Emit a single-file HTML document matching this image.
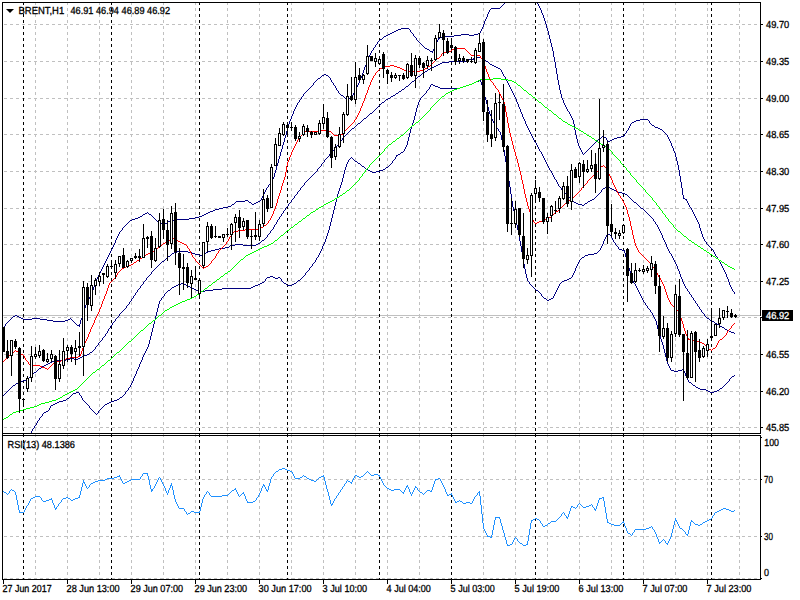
<!DOCTYPE html>
<html><head><meta charset="utf-8"><title>BRENT,H1</title>
<style>html,body{margin:0;padding:0;background:#fff;overflow:hidden}svg{display:block}text{font-family:"Liberation Sans",sans-serif}</style>
</head><body>
<svg width="800" height="600" viewBox="0 0 800 600">
<rect x="0" y="0" width="800" height="600" fill="#fff"/>
<defs><clipPath id="cm"><rect x="3" y="3" width="757" height="430"/></clipPath><clipPath id="cr"><rect x="3" y="436" width="757" height="143"/></clipPath></defs>
<g stroke="#c0c0c0" stroke-width="1" shape-rendering="crispEdges" fill="none">
<line x1="4" y1="24.5" x2="760" y2="24.5" stroke-dasharray="3,3"/>
<line x1="4" y1="61.5" x2="760" y2="61.5" stroke-dasharray="3,3"/>
<line x1="4" y1="98.5" x2="760" y2="98.5" stroke-dasharray="3,3"/>
<line x1="4" y1="134.5" x2="760" y2="134.5" stroke-dasharray="3,3"/>
<line x1="4" y1="171.5" x2="760" y2="171.5" stroke-dasharray="3,3"/>
<line x1="4" y1="208.5" x2="760" y2="208.5" stroke-dasharray="3,3"/>
<line x1="4" y1="244.5" x2="760" y2="244.5" stroke-dasharray="3,3"/>
<line x1="4" y1="281.5" x2="760" y2="281.5" stroke-dasharray="3,3"/>
<line x1="4" y1="317.5" x2="760" y2="317.5" stroke-dasharray="3,3"/>
<line x1="4" y1="354.5" x2="760" y2="354.5" stroke-dasharray="3,3"/>
<line x1="4" y1="391.5" x2="760" y2="391.5" stroke-dasharray="3,3"/>
<line x1="4" y1="427.5" x2="760" y2="427.5" stroke-dasharray="3,3"/>
<line x1="4" y1="479.5" x2="760" y2="479.5" stroke-dasharray="3,3"/>
<line x1="4" y1="536.5" x2="760" y2="536.5" stroke-dasharray="3,3"/>
<line x1="4" y1="578.5" x2="760" y2="578.5" stroke-dasharray="3,3"/>
<line x1="35.5" y1="2" x2="35.5" y2="579" stroke-dasharray="3,3"/>
<line x1="67.5" y1="2" x2="67.5" y2="579" stroke-dasharray="3,3"/>
<line x1="99.5" y1="2" x2="99.5" y2="579" stroke-dasharray="3,3"/>
<line x1="131.5" y1="2" x2="131.5" y2="579" stroke-dasharray="3,3"/>
<line x1="163.5" y1="2" x2="163.5" y2="579" stroke-dasharray="3,3"/>
<line x1="195.5" y1="2" x2="195.5" y2="579" stroke-dasharray="3,3"/>
<line x1="227.5" y1="2" x2="227.5" y2="579" stroke-dasharray="3,3"/>
<line x1="259.5" y1="2" x2="259.5" y2="579" stroke-dasharray="3,3"/>
<line x1="291.5" y1="2" x2="291.5" y2="579" stroke-dasharray="3,3"/>
<line x1="323.5" y1="2" x2="323.5" y2="579" stroke-dasharray="3,3"/>
<line x1="355.5" y1="2" x2="355.5" y2="579" stroke-dasharray="3,3"/>
<line x1="387.5" y1="2" x2="387.5" y2="579" stroke-dasharray="3,3"/>
<line x1="419.5" y1="2" x2="419.5" y2="579" stroke-dasharray="3,3"/>
<line x1="451.5" y1="2" x2="451.5" y2="579" stroke-dasharray="3,3"/>
<line x1="483.5" y1="2" x2="483.5" y2="579" stroke-dasharray="3,3"/>
<line x1="515.5" y1="2" x2="515.5" y2="579" stroke-dasharray="3,3"/>
<line x1="547.5" y1="2" x2="547.5" y2="579" stroke-dasharray="3,3"/>
<line x1="579.5" y1="2" x2="579.5" y2="579" stroke-dasharray="3,3"/>
<line x1="611.5" y1="2" x2="611.5" y2="579" stroke-dasharray="3,3"/>
<line x1="643.5" y1="2" x2="643.5" y2="579" stroke-dasharray="3,3"/>
<line x1="675.5" y1="2" x2="675.5" y2="579" stroke-dasharray="3,3"/>
<line x1="707.5" y1="2" x2="707.5" y2="579" stroke-dasharray="3,3"/>
<line x1="739.5" y1="2" x2="739.5" y2="579" stroke-dasharray="3,3"/>
</g>
<rect x="3" y="315" width="757" height="1" fill="#c0c0c0"/>
<g stroke="#000" stroke-width="1" shape-rendering="crispEdges" fill="none">
<line x1="23.5" y1="2" x2="23.5" y2="579" stroke-dasharray="3,3"/>
<line x1="111.5" y1="2" x2="111.5" y2="579" stroke-dasharray="3,3"/>
<line x1="199.5" y1="2" x2="199.5" y2="579" stroke-dasharray="3,3"/>
<line x1="287.5" y1="2" x2="287.5" y2="579" stroke-dasharray="3,3"/>
<line x1="379.5" y1="2" x2="379.5" y2="579" stroke-dasharray="3,3"/>
<line x1="451.5" y1="2" x2="451.5" y2="579" stroke-dasharray="3,3"/>
<line x1="535.5" y1="2" x2="535.5" y2="579" stroke-dasharray="3,3"/>
<line x1="623.5" y1="2" x2="623.5" y2="579" stroke-dasharray="3,3"/>
<line x1="711.5" y1="2" x2="711.5" y2="579" stroke-dasharray="3,3"/>
</g>
<path fill="#000080" shape-rendering="crispEdges" d="M547 300h2v1h-2zM195 254h4v1h-4zM202 254h2v1h-2zM588 254h6v1h-6zM34 372h2v1h-2zM66 359h4v1h-4zM74 359h4v1h-4zM722 327h2v1h-2zM355 161h2v1h-2zM604 137h2v1h-2zM617 137h4v1h-4zM438 87h2v1h-2zM460 87h3v1h-3zM449 61h17v1h-17zM486 61h2v1h-2zM402 89h2v1h-2zM26 379h2v1h-2zM607 234h3v1h-3zM57 360h9v1h-9zM352 128h2v1h-2zM658 128h2v1h-2zM143 214h2v1h-2zM149 214h2v1h-2zM204 214h2v1h-2zM160 223h3v1h-3zM165 223h2v1h-2zM370 113h2v1h-2zM23 319h9v1h-9zM40 319h7v1h-7zM68 319h2v1h-2zM47 320h6v1h-6zM65 320h3v1h-3zM710 320h2v1h-2zM298 280h2v1h-2zM564 280h3v1h-3zM132 219h3v1h-3zM174 219h15v1h-15zM386 35h2v1h-2zM454 35h7v1h-7zM469 35h5v1h-5zM549 299h2v1h-2zM262 240h2v1h-2zM341 95h2v1h-2zM393 95h2v1h-2zM418 76h2v1h-2zM610 140h2v1h-2zM412 81h2v1h-2zM476 81h3v1h-3zM391 96h2v1h-2zM438 64h2v1h-2zM490 64h2v1h-2zM77 325h3v1h-3zM13 316h2v1h-2zM17 316h2v1h-2zM138 217h2v1h-2zM195 217h4v1h-4zM474 82h2v1h-2zM731 332h3v1h-3zM215 209h4v1h-4zM362 166h2v1h-2zM230 245h5v1h-5zM243 245h13v1h-13zM599 138h2v1h-2zM614 138h3v1h-3zM236 201h9v1h-9zM258 201h2v1h-2zM588 201h2v1h-2zM275 278h3v1h-3zM569 278h2v1h-2zM370 171h2v1h-2zM376 171h4v1h-4zM428 69h2v1h-2zM582 257h2v1h-2zM634 121h2v1h-2zM23 380h3v1h-3zM76 392h3v1h-3zM710 392h4v1h-4zM267 277h3v1h-3zM273 277h2v1h-2zM278 277h2v1h-2zM544 298h2v1h-2zM551 298h2v1h-2zM52 361h5v1h-5zM671 370h3v1h-3zM678 370h4v1h-4zM174 252h3v1h-3zM188 252h4v1h-4zM206 252h2v1h-2zM696 387h2v1h-2zM406 86h2v1h-2zM435 86h3v1h-3zM463 86h3v1h-3zM396 93h2v1h-2zM474 57h7v1h-7zM401 28h8v1h-8zM82 356h2v1h-2zM168 221h2v1h-2zM636 120h4v1h-4zM235 244h8v1h-8zM256 244h2v1h-2zM396 30h2v1h-2zM44 365h2v1h-2zM20 381h3v1h-3zM254 203h2v1h-2zM576 203h2v1h-2zM585 203h2v1h-2zM440 37h3v1h-3zM368 170h2v1h-2zM380 170h3v1h-3zM440 63h2v1h-2zM130 220h2v1h-2zM170 220h4v1h-4zM245 200h3v1h-3zM590 200h2v1h-2zM192 288h2v1h-2zM222 288h29v1h-29zM366 169h2v1h-2zM383 169h2v1h-2zM15 315h2v1h-2zM682 369h2v1h-2zM232 204h2v1h-2zM252 204h2v1h-2zM578 204h4v1h-4zM18 382h2v1h-2zM689 382h2v1h-2zM202 215h2v1h-2zM172 253h2v1h-2zM192 253h3v1h-3zM204 253h2v1h-2zM594 253h3v1h-3zM614 190h2v1h-2zM380 39h2v1h-2zM140 216h2v1h-2zM199 216h3v1h-3zM51 405h2v1h-2zM178 284h3v1h-3zM184 284h2v1h-2zM258 284h2v1h-2zM292 284h2v1h-2zM168 256h2v1h-2zM562 281h2v1h-2zM431 84h2v1h-2zM469 84h3v1h-3zM700 389h6v1h-6zM48 363h2v1h-2zM683 198h2v1h-2zM433 85h2v1h-2zM466 85h3v1h-3zM399 91h2v1h-2zM172 287h2v1h-2zM190 287h2v1h-2zM251 287h2v1h-2zM322 75h2v1h-2zM326 75h2v1h-2zM491 8h9v1h-9zM215 249h4v1h-4zM619 249h3v1h-3zM210 211h3v1h-3zM228 206h3v1h-3zM318 78h2v1h-2zM394 31h2v1h-2zM652 125h2v1h-2zM194 289h2v1h-2zM213 289h9v1h-9zM13 385h2v1h-2zM693 385h2v1h-2zM382 102h2v1h-2zM616 191h2v1h-2zM158 222h2v1h-2zM640 119h8v1h-8zM199 291h6v1h-6zM388 34h2v1h-2zM461 34h8v1h-8zM474 34h4v1h-4zM434 66h2v1h-2zM494 66h2v1h-2zM176 285h2v1h-2zM186 285h2v1h-2zM255 285h3v1h-3zM287 285h5v1h-5zM208 212h2v1h-2zM199 255h3v1h-3zM585 255h3v1h-3zM90 352h2v1h-2zM223 207h5v1h-5zM145 213h2v1h-2zM206 213h2v1h-2zM73 393h3v1h-3zM481 58h2v1h-2zM21 318h2v1h-2zM32 318h8v1h-8zM707 318h2v1h-2zM592 199h2v1h-2zM685 199h2v1h-2zM249 202h2v1h-2zM256 202h2v1h-2zM574 202h2v1h-2zM634 202h2v1h-2zM168 290h2v1h-2zM196 290h3v1h-3zM205 290h8v1h-8zM536 290h2v1h-2zM135 218h3v1h-3zM189 218h6v1h-6zM390 33h2v1h-2zM478 33h2v1h-2zM163 224h2v1h-2zM440 88h20v1h-20zM602 136h2v1h-2zM621 136h3v1h-3zM674 371h4v1h-4zM398 29h3v1h-3zM70 358h4v1h-4zM78 358h2v1h-2zM59 401h4v1h-4zM111 401h3v1h-3zM472 83h2v1h-2zM177 251h11v1h-11zM208 251h3v1h-3zM53 321h12v1h-12zM712 321h2v1h-2zM612 139h2v1h-2zM372 172h4v1h-4zM427 49h2v1h-2zM625 194h2v1h-2zM262 282h2v1h-2zM213 210h2v1h-2zM181 283h3v1h-3zM260 283h2v1h-2zM284 283h2v1h-2zM294 283h2v1h-2zM430 68h2v1h-2zM498 68h2v1h-2zM16 383h2v1h-2zM46 411h2v1h-2zM582 205h2v1h-2zM63 400h3v1h-3zM114 400h3v1h-3zM324 74h2v1h-2zM258 243h2v1h-2zM396 155h2v1h-2zM364 118h2v1h-2zM53 404h2v1h-2zM105 404h2v1h-2zM423 72h2v1h-2zM80 357h2v1h-2zM632 122h2v1h-2zM174 286h2v1h-2zM188 286h2v1h-2zM253 286h2v1h-2zM44 412h2v1h-2zM270 276h3v1h-3zM479 80h2v1h-2zM425 71h2v1h-2zM715 323h2v1h-2zM358 123h2v1h-2zM612 189h2v1h-2zM162 261h2v1h-2zM698 388h2v1h-2zM720 388h2v1h-2zM50 362h2v1h-2zM55 403h2v1h-2zM107 403h2v1h-2zM386 99h2v1h-2zM660 129h2v1h-2zM386 167h2v1h-2zM120 397h2v1h-2zM605 187h2v1h-2zM608 187h2v1h-2zM436 65h2v1h-2zM492 65h2v1h-2zM732 376h2v1h-2zM211 250h4v1h-4zM622 250h3v1h-3zM618 192h4v1h-4zM46 364h2v1h-2zM603 188h2v1h-2zM610 188h2v1h-2zM442 62h7v1h-7zM87 354h2v1h-2zM706 390h2v1h-2zM717 390h2v1h-2zM401 152h2v1h-2zM219 208h4v1h-4zM641 208h2v1h-2zM19 317h2v1h-2zM608 141h2v1h-2zM708 391h2v1h-2zM714 391h3v1h-3zM388 98h2v1h-2zM225 247h4v1h-4zM717 324h2v1h-2zM42 366h2v1h-2zM384 36h2v1h-2zM443 36h11v1h-11zM438 38h2v1h-2zM430 51h3v1h-3zM567 279h2v1h-2zM622 193h3v1h-3zM729 331h2v1h-2zM392 32h2v1h-2zM432 67h2v1h-2zM496 67h2v1h-2zM655 127h3v1h-3zM358 163h2v1h-2zM467 59h7v1h-7zM483 59h2v1h-2zM219 248h6v1h-6zM39 368h2v1h-2zM425 48h2v1h-2zM727 330h2v1h-2zM57 402h2v1h-2zM109 402h2v1h-2zM398 154h2v1h-2zM720 326h2v1h-2zM725 329h2v1h-2zM117 399h2v1h-2zM84 355h3v1h-3zM67 398h2v1h-2zM554 57h1v5h-1zM554 177h1v2h-1zM554 294h1v2h-1zM98 275h1v2h-1zM98 343h1v2h-1zM98 411h1v2h-1zM694 214h1v2h-1zM694 300h1v1h-1zM338 91h1v2h-1zM338 144h1v1h-1zM338 191h1v3h-1zM684 284h1v2h-1zM684 371h1v2h-1zM410 30h1v2h-1zM410 83h1v1h-1zM410 129h1v4h-1zM153 217h1v1h-1zM153 270h1v1h-1zM153 324h1v4h-1zM695 216h1v2h-1zM695 301h1v2h-1zM695 386h1v1h-1zM285 135h1v3h-1zM285 208h1v2h-1zM685 286h1v2h-1zM685 373h1v3h-1zM592 145h1v1h-1zM485 19h1v2h-1zM485 60h1v1h-1zM485 97h1v3h-1zM355 89h1v2h-1zM355 126h1v1h-1zM729 282h1v3h-1zM729 379h1v2h-1zM333 83h1v2h-1zM333 150h1v1h-1zM333 210h1v4h-1zM666 134h1v1h-1zM666 244h1v3h-1zM666 357h1v4h-1zM293 111h1v3h-1zM293 198h1v1h-1zM10 319h1v1h-1zM10 388h1v1h-1zM265 190h1v2h-1zM265 238h1v1h-1zM265 279h1v2h-1zM520 109h1v3h-1zM520 241h1v5h-1zM278 159h1v4h-1zM278 219h1v1h-1zM413 34h1v2h-1zM413 120h1v3h-1zM546 24h1v4h-1zM546 162h1v2h-1zM546 299h1v1h-1zM672 146h1v2h-1zM672 256h1v2h-1zM559 85h1v5h-1zM559 186h1v1h-1zM559 284h1v2h-1zM504 3h1v1h-1zM504 76h1v1h-1zM504 150h1v6h-1zM604 239h1v2h-1zM484 21h1v3h-1zM484 93h1v4h-1zM550 39h1v4h-1zM550 170h1v1h-1zM676 157h1v4h-1zM676 264h1v2h-1zM328 76h1v1h-1zM328 156h1v1h-1zM328 230h1v3h-1zM669 139h1v2h-1zM669 251h1v2h-1zM669 366h1v2h-1zM414 36h1v1h-1zM414 80h1v1h-1zM414 116h1v4h-1zM627 130h1v1h-1zM627 195h1v1h-1zM627 260h1v4h-1zM580 148h1v2h-1zM580 259h1v1h-1zM331 80h1v2h-1zM331 152h1v1h-1zM331 218h1v4h-1zM560 90h1v4h-1zM560 187h1v1h-1zM560 283h1v1h-1zM351 96h1v1h-1zM351 129h1v1h-1zM351 157h1v1h-1zM363 70h1v3h-1zM363 119h1v1h-1zM5 324h1v2h-1zM5 393h1v1h-1zM675 153h1v4h-1zM675 262h1v2h-1zM82 316h1v2h-1zM82 398h1v2h-1zM513 93h1v2h-1zM513 207h1v4h-1zM332 82h1v1h-1zM332 151h1v1h-1zM332 214h1v4h-1zM658 227h1v2h-1zM658 329h1v4h-1zM643 209h1v1h-1zM643 300h1v2h-1zM427 70h1v1h-1zM427 90h1v1h-1zM514 95h1v2h-1zM514 211h1v4h-1zM136 292h1v1h-1zM136 371h1v3h-1zM659 229h1v2h-1zM659 333h1v3h-1zM678 165h1v5h-1zM678 269h1v2h-1zM542 13h1v2h-1zM542 154h1v2h-1zM542 296h1v1h-1zM101 269h1v2h-1zM101 340h1v1h-1zM101 408h1v1h-1zM699 224h1v4h-1zM699 307h1v2h-1zM280 152h1v4h-1zM280 216h1v1h-1zM280 278h1v1h-1zM662 130h1v1h-1zM662 235h1v3h-1zM662 342h1v3h-1zM166 258h1v1h-1zM166 292h1v1h-1zM556 68h1v6h-1zM556 180h1v2h-1zM556 290h1v2h-1zM167 222h1v1h-1zM167 257h1v1h-1zM167 291h1v1h-1zM144 281h1v1h-1zM144 353h1v2h-1zM661 233h1v2h-1zM661 339h1v3h-1zM573 120h1v4h-1zM573 201h1v1h-1zM573 273h1v2h-1zM524 119h1v2h-1zM524 264h1v5h-1zM706 242h1v2h-1zM706 317h1v1h-1zM418 41h1v1h-1zM418 102h1v3h-1zM133 296h1v2h-1zM133 378h1v3h-1zM409 29h1v1h-1zM409 84h1v1h-1zM409 133h1v4h-1zM517 102h1v2h-1zM517 225h1v5h-1zM508 83h1v2h-1zM508 174h1v7h-1zM97 277h1v2h-1zM97 345h1v1h-1zM97 413h1v1h-1zM501 6h1v1h-1zM501 70h1v2h-1zM501 135h1v5h-1zM284 138h1v4h-1zM284 210h1v1h-1zM40 417h1v1h-1zM161 262h1v1h-1zM161 298h1v2h-1zM281 149h1v3h-1zM281 214h1v2h-1zM281 279h1v2h-1zM86 303h1v2h-1zM86 403h1v1h-1zM110 251h1v2h-1zM110 326h1v2h-1zM644 210h1v1h-1zM644 302h1v1h-1zM348 99h1v1h-1zM348 132h1v1h-1zM348 160h1v2h-1zM158 265h1v1h-1zM158 304h1v4h-1zM541 10h1v3h-1zM541 152h1v2h-1zM541 294h1v2h-1zM129 221h1v1h-1zM129 302h1v2h-1zM129 387h1v1h-1zM430 85h1v2h-1zM141 285h1v1h-1zM141 360h1v2h-1zM377 42h1v2h-1zM377 107h1v1h-1zM36 371h1v1h-1zM36 423h1v2h-1zM277 163h1v3h-1zM277 220h1v2h-1zM423 46h1v1h-1zM423 95h1v1h-1zM603 241h1v3h-1zM119 232h1v2h-1zM119 314h1v2h-1zM119 398h1v1h-1zM361 76h1v2h-1zM361 121h1v1h-1zM361 165h1v1h-1zM506 79h1v2h-1zM506 162h1v6h-1zM80 320h1v4h-1zM80 395h1v1h-1zM335 86h1v2h-1zM335 147h1v2h-1zM335 202h1v4h-1zM576 135h1v4h-1zM576 266h1v2h-1zM273 177h1v2h-1zM273 227h1v2h-1zM89 297h1v2h-1zM89 353h1v1h-1zM89 406h1v2h-1zM555 62h1v6h-1zM555 179h1v1h-1zM555 292h1v2h-1zM653 219h1v2h-1zM653 315h1v2h-1zM135 293h1v2h-1zM135 374h1v2h-1zM315 81h1v1h-1zM315 172h1v1h-1zM315 260h1v2h-1zM71 319h1v1h-1zM71 395h1v1h-1zM654 126h1v1h-1zM654 221h1v1h-1zM654 317h1v2h-1zM130 301h1v1h-1zM130 385h1v2h-1zM552 47h1v4h-1zM552 173h1v2h-1zM557 74h1v6h-1zM557 182h1v2h-1zM557 288h1v2h-1zM370 53h1v2h-1zM696 218h1v2h-1zM696 303h1v1h-1zM489 10h1v2h-1zM489 63h1v1h-1zM489 111h1v3h-1zM310 87h1v1h-1zM310 177h1v1h-1zM310 267h1v1h-1zM697 220h1v2h-1zM697 304h1v2h-1zM305 92h1v1h-1zM305 182h1v1h-1zM305 273h1v2h-1zM417 40h1v1h-1zM417 77h1v1h-1zM417 105h1v3h-1zM132 298h1v1h-1zM132 381h1v2h-1zM375 45h1v2h-1zM375 109h1v1h-1zM575 130h1v5h-1zM575 268h1v3h-1zM151 215h1v1h-1zM151 272h1v2h-1zM151 332h1v4h-1zM84 308h1v4h-1zM84 401h1v1h-1zM433 49h1v2h-1zM398 92h1v1h-1zM611 236h1v2h-1zM558 80h1v5h-1zM558 184h1v2h-1zM558 286h1v2h-1zM160 263h1v1h-1zM160 300h1v1h-1zM330 78h1v2h-1zM330 153h1v1h-1zM330 222h1v4h-1zM510 87h1v2h-1zM510 187h1v7h-1zM126 224h1v1h-1zM126 306h1v2h-1zM126 391h1v1h-1zM670 141h1v2h-1zM670 253h1v1h-1zM670 368h1v2h-1zM307 90h1v1h-1zM307 180h1v1h-1zM307 271h1v1h-1zM152 216h1v1h-1zM152 271h1v1h-1zM152 328h1v4h-1zM104 263h1v2h-1zM104 336h1v1h-1zM104 405h1v1h-1zM519 107h1v2h-1zM519 235h1v6h-1zM625 133h1v1h-1zM625 253h1v4h-1zM530 132h1v2h-1zM530 284h1v1h-1zM389 165h1v1h-1zM671 143h1v3h-1zM671 254h1v2h-1zM415 37h1v1h-1zM415 79h1v1h-1zM415 112h1v4h-1zM626 131h1v2h-1zM626 257h1v3h-1zM128 222h1v1h-1zM128 304h1v1h-1zM128 388h1v2h-1zM140 286h1v2h-1zM140 362h1v2h-1zM334 85h1v1h-1zM334 149h1v1h-1zM334 206h1v4h-1zM105 261h1v2h-1zM105 334h1v2h-1zM628 128h1v2h-1zM628 196h1v1h-1zM628 264h1v4h-1zM117 236h1v2h-1zM117 317h1v1h-1zM269 184h1v1h-1zM269 233h1v1h-1zM512 91h1v2h-1zM512 201h1v6h-1zM93 287h1v3h-1zM93 350h1v1h-1zM93 411h1v1h-1zM123 227h1v1h-1zM123 310h1v1h-1zM123 395h1v1h-1zM157 221h1v1h-1zM157 266h1v1h-1zM157 308h1v4h-1zM103 265h1v2h-1zM103 337h1v1h-1zM103 406h1v1h-1zM544 18h1v3h-1zM544 158h1v2h-1zM645 211h1v1h-1zM645 303h1v2h-1zM118 234h1v2h-1zM118 316h1v1h-1zM360 78h1v2h-1zM360 122h1v1h-1zM360 164h1v1h-1zM480 31h1v2h-1zM480 81h1v1h-1zM412 33h1v1h-1zM412 123h1v3h-1zM304 93h1v1h-1zM304 183h1v2h-1zM304 275h1v1h-1zM148 213h1v1h-1zM148 276h1v1h-1zM148 344h1v3h-1zM287 128h1v3h-1zM287 206h1v1h-1zM572 118h1v2h-1zM572 200h1v1h-1zM572 275h1v2h-1zM642 298h1v2h-1zM294 109h1v2h-1zM294 196h1v2h-1zM562 98h1v2h-1zM562 190h1v1h-1zM488 12h1v2h-1zM488 62h1v1h-1zM488 107h1v4h-1zM379 40h1v1h-1zM379 105h1v1h-1zM526 124h1v2h-1zM526 274h1v4h-1zM229 246h1v1h-1zM261 198h1v2h-1zM261 241h1v1h-1zM321 76h1v1h-1zM321 164h1v2h-1zM321 249h1v2h-1zM646 212h1v1h-1zM646 305h1v1h-1zM681 182h1v6h-1zM681 277h1v2h-1zM416 38h1v2h-1zM416 78h1v1h-1zM416 108h1v4h-1zM147 212h1v1h-1zM147 277h1v1h-1zM147 347h1v2h-1zM607 140h1v1h-1zM607 186h1v1h-1zM607 233h1v1h-1zM83 312h1v4h-1zM83 400h1v1h-1zM120 231h1v1h-1zM120 313h1v1h-1zM407 141h1v4h-1zM345 98h1v1h-1zM345 135h1v1h-1zM345 167h1v3h-1zM311 86h1v1h-1zM311 176h1v1h-1zM311 266h1v1h-1zM505 77h1v2h-1zM505 156h1v6h-1zM551 43h1v4h-1zM551 171h1v2h-1zM596 141h1v1h-1zM596 196h1v1h-1zM723 268h1v2h-1zM723 386h1v1h-1zM292 114h1v2h-1zM292 199h1v1h-1zM586 151h1v1h-1zM92 290h1v2h-1zM92 351h1v1h-1zM92 410h1v1h-1zM522 114h1v3h-1zM522 252h1v6h-1zM561 94h1v4h-1zM561 188h1v2h-1zM561 282h1v1h-1zM91 292h1v3h-1zM91 409h1v1h-1zM116 238h1v2h-1zM116 318h1v1h-1zM88 299h1v2h-1zM88 405h1v1h-1zM343 96h1v1h-1zM343 137h1v1h-1zM343 174h1v4h-1zM652 218h1v1h-1zM652 313h1v2h-1zM403 151h1v1h-1zM677 161h1v4h-1zM677 266h1v3h-1zM308 89h1v1h-1zM308 179h1v1h-1zM308 270h1v1h-1zM582 152h1v2h-1zM660 231h1v2h-1zM660 336h1v3h-1zM359 80h1v3h-1zM679 170h1v6h-1zM679 271h1v3h-1zM733 291h1v1h-1zM656 224h1v1h-1zM656 321h1v4h-1zM568 111h1v1h-1zM568 196h1v1h-1zM303 94h1v2h-1zM303 185h1v1h-1zM303 276h1v1h-1zM404 88h1v1h-1zM404 149h1v2h-1zM698 222h1v2h-1zM698 306h1v1h-1zM100 271h1v2h-1zM100 341h1v1h-1zM100 409h1v1h-1zM663 131h1v1h-1zM663 238h1v2h-1zM663 345h1v4h-1zM495 125h1v2h-1zM286 131h1v4h-1zM286 207h1v1h-1zM286 284h1v1h-1zM701 231h1v3h-1zM701 310h1v2h-1zM664 132h1v1h-1zM664 240h1v2h-1zM664 349h1v4h-1zM283 142h1v3h-1zM283 211h1v2h-1zM283 282h1v1h-1zM437 40h1v2h-1zM339 93h1v1h-1zM339 142h1v2h-1zM339 188h1v3h-1zM525 121h1v3h-1zM525 269h1v5h-1zM547 28h1v3h-1zM547 164h1v2h-1zM518 104h1v3h-1zM518 230h1v5h-1zM481 29h1v2h-1zM481 82h1v3h-1zM486 17h1v2h-1zM486 100h1v4h-1zM502 5h1v1h-1zM502 72h1v2h-1zM502 140h1v4h-1zM260 200h1v1h-1zM260 242h1v1h-1zM320 77h1v1h-1zM320 166h1v1h-1zM320 251h1v2h-1zM606 138h1v2h-1zM606 235h1v2h-1zM350 97h1v1h-1zM350 130h1v1h-1zM350 158h1v1h-1zM722 266h1v2h-1zM722 387h1v1h-1zM682 188h1v7h-1zM682 279h1v3h-1zM727 277h1v2h-1zM727 382h1v1h-1zM337 90h1v1h-1zM337 145h1v1h-1zM337 194h1v4h-1zM584 153h1v1h-1zM584 204h1v1h-1zM584 256h1v1h-1zM429 50h1v1h-1zM429 87h1v2h-1zM683 195h1v3h-1zM683 282h1v2h-1zM683 370h1v1h-1zM686 200h1v1h-1zM686 288h1v1h-1zM686 376h1v2h-1zM290 119h1v2h-1zM290 202h1v1h-1zM276 166h1v4h-1zM276 222h1v2h-1zM316 80h1v1h-1zM316 171h1v1h-1zM316 258h1v2h-1zM543 15h1v3h-1zM543 156h1v2h-1zM543 297h1v1h-1zM291 116h1v3h-1zM291 200h1v2h-1zM297 103h1v2h-1zM297 192h1v2h-1zM297 281h1v1h-1zM70 318h1v1h-1zM70 396h1v1h-1zM90 295h1v2h-1zM90 408h1v1h-1zM115 240h1v3h-1zM115 319h1v2h-1zM114 243h1v2h-1zM114 321h1v1h-1zM155 219h1v1h-1zM155 268h1v1h-1zM155 316h1v4h-1zM146 278h1v2h-1zM146 349h1v2h-1zM515 97h1v2h-1zM515 215h1v4h-1zM734 292h1v2h-1zM734 333h1v1h-1zM734 375h1v1h-1zM436 42h1v2h-1zM309 88h1v1h-1zM309 178h1v1h-1zM309 268h1v2h-1zM503 4h1v1h-1zM503 74h1v2h-1zM503 144h1v6h-1zM319 167h1v1h-1zM319 253h1v2h-1zM511 89h1v2h-1zM511 194h1v7h-1zM577 139h1v4h-1zM577 264h1v2h-1zM150 274h1v1h-1zM150 336h1v4h-1zM426 91h1v2h-1zM336 88h1v2h-1zM336 146h1v1h-1zM336 198h1v4h-1zM692 210h1v2h-1zM692 297h1v1h-1zM692 384h1v1h-1zM301 97h1v2h-1zM301 187h1v1h-1zM301 278h1v1h-1zM279 156h1v3h-1zM279 217h1v2h-1zM581 150h1v2h-1zM581 258h1v1h-1zM553 51h1v6h-1zM553 175h1v2h-1zM553 296h1v2h-1zM289 121h1v3h-1zM289 203h1v1h-1zM630 124h1v2h-1zM630 198h1v1h-1zM630 271h1v4h-1zM327 157h1v1h-1zM327 233h1v3h-1zM482 27h1v2h-1zM482 85h1v4h-1zM600 192h1v1h-1zM600 248h1v2h-1zM566 107h1v2h-1zM566 194h1v1h-1zM48 410h1v1h-1zM633 201h1v1h-1zM633 281h1v2h-1zM72 320h1v1h-1zM72 394h1v1h-1zM165 259h1v1h-1zM165 293h1v1h-1zM131 299h1v2h-1zM131 383h1v2h-1zM700 228h1v3h-1zM700 309h1v1h-1zM637 204h1v1h-1zM637 288h1v2h-1zM570 114h1v2h-1zM570 198h1v1h-1zM112 247h1v2h-1zM112 323h1v2h-1zM109 253h1v2h-1zM109 328h1v1h-1zM571 116h1v2h-1zM571 199h1v1h-1zM571 277h1v1h-1zM85 305h1v3h-1zM85 402h1v1h-1zM266 188h1v2h-1zM266 237h1v1h-1zM266 278h1v1h-1zM707 244h1v1h-1zM122 228h1v2h-1zM122 311h1v1h-1zM122 396h1v1h-1zM395 94h1v1h-1zM395 157h1v2h-1zM655 222h1v2h-1zM655 319h1v2h-1zM35 425h1v1h-1zM721 264h1v2h-1zM419 42h1v1h-1zM419 100h1v2h-1zM420 43h1v1h-1zM420 75h1v1h-1zM420 98h1v2h-1zM31 375h1v1h-1zM31 431h1v2h-1zM300 99h1v1h-1zM300 188h1v2h-1zM300 279h1v1h-1zM326 158h1v1h-1zM326 236h1v3h-1zM728 279h1v3h-1zM728 381h1v1h-1zM314 82h1v1h-1zM314 173h1v1h-1zM314 262h1v1h-1zM267 187h1v1h-1zM267 235h1v2h-1zM507 81h1v2h-1zM507 168h1v6h-1zM73 321h1v1h-1zM296 105h1v2h-1zM296 194h1v1h-1zM296 282h1v1h-1zM712 249h1v1h-1zM263 194h1v2h-1zM667 135h1v2h-1zM667 247h1v2h-1zM667 361h1v3h-1zM393 160h1v1h-1zM713 250h1v2h-1zM108 255h1v2h-1zM108 329h1v2h-1zM668 137h1v2h-1zM668 249h1v2h-1zM668 364h1v2h-1zM648 120h1v1h-1zM648 214h1v1h-1zM648 308h1v1h-1zM29 377h1v1h-1zM533 138h1v2h-1zM533 287h1v1h-1zM282 145h1v4h-1zM282 213h1v1h-1zM282 281h1v1h-1zM388 166h1v1h-1zM534 140h1v2h-1zM534 288h1v1h-1zM127 223h1v1h-1zM127 305h1v1h-1zM127 390h1v1h-1zM537 3h1v1h-1zM537 145h1v2h-1zM139 288h1v1h-1zM139 364h1v3h-1zM579 146h1v2h-1zM579 260h1v2h-1zM102 267h1v2h-1zM102 338h1v2h-1zM102 407h1v1h-1zM344 97h1v1h-1zM344 136h1v1h-1zM344 170h1v4h-1zM400 153h1v1h-1zM635 284h1v2h-1zM499 131h1v1h-1zM516 99h1v3h-1zM516 219h1v6h-1zM509 85h1v2h-1zM509 181h1v6h-1zM9 320h1v1h-1zM9 389h1v1h-1zM378 41h1v1h-1zM378 106h1v1h-1zM356 87h1v2h-1zM356 125h1v1h-1zM154 218h1v1h-1zM154 269h1v1h-1zM154 320h1v4h-1zM329 77h1v1h-1zM329 154h1v2h-1zM329 226h1v4h-1zM3 327h1v1h-1zM3 395h1v1h-1zM719 260h1v2h-1zM719 325h1v1h-1zM719 389h1v1h-1zM597 140h1v1h-1zM597 195h1v1h-1zM597 252h1v1h-1zM342 138h1v2h-1zM342 178h1v4h-1zM349 98h1v1h-1zM349 131h1v1h-1zM349 159h1v1h-1zM145 280h1v1h-1zM145 351h1v2h-1zM624 134h1v2h-1zM624 251h1v2h-1zM539 6h1v2h-1zM539 149h1v2h-1zM539 292h1v1h-1zM613 240h1v2h-1zM34 426h1v2h-1zM473 58h1v1h-1zM302 96h1v1h-1zM302 186h1v1h-1zM302 277h1v1h-1zM366 62h1v3h-1zM366 117h1v1h-1zM94 284h1v3h-1zM94 349h1v1h-1zM94 412h1v1h-1zM95 282h1v2h-1zM95 347h1v2h-1zM95 413h1v1h-1zM271 181h1v1h-1zM271 230h1v1h-1zM521 112h1v2h-1zM521 246h1v6h-1zM313 83h1v2h-1zM313 174h1v1h-1zM313 263h1v1h-1zM435 44h1v3h-1zM382 38h1v1h-1zM156 220h1v1h-1zM156 267h1v1h-1zM156 312h1v4h-1zM528 128h1v2h-1zM528 281h1v1h-1zM535 142h1v1h-1zM535 289h1v1h-1zM37 370h1v1h-1zM37 421h1v2h-1zM124 226h1v1h-1zM124 309h1v1h-1zM124 394h1v1h-1zM272 179h1v2h-1zM272 229h1v1h-1zM432 52h1v1h-1zM288 124h1v4h-1zM288 204h1v2h-1zM362 73h1v3h-1zM362 120h1v1h-1zM374 47h1v1h-1zM374 110h1v1h-1zM33 373h1v1h-1zM33 428h1v1h-1zM274 173h1v4h-1zM274 225h1v2h-1zM650 123h1v1h-1zM650 216h1v1h-1zM650 310h1v2h-1zM490 9h1v1h-1zM490 114h1v2h-1zM171 254h1v1h-1zM171 288h1v1h-1zM268 185h1v2h-1zM268 234h1v1h-1zM380 104h1v1h-1zM270 182h1v2h-1zM270 231h1v2h-1zM312 85h1v1h-1zM312 175h1v1h-1zM312 264h1v2h-1zM567 109h1v2h-1zM567 195h1v1h-1zM602 189h1v1h-1zM602 244h1v2h-1zM264 192h1v2h-1zM264 239h1v1h-1zM264 281h1v1h-1zM121 230h1v1h-1zM121 312h1v1h-1zM394 159h1v1h-1zM612 238h1v2h-1zM107 257h1v2h-1zM107 331h1v2h-1zM615 243h1v2h-1zM527 126h1v2h-1zM527 278h1v3h-1zM724 270h1v2h-1zM724 328h1v1h-1zM724 385h1v1h-1zM545 21h1v3h-1zM545 160h1v2h-1zM731 287h1v2h-1zM731 377h1v1h-1zM523 117h1v2h-1zM523 258h1v6h-1zM295 107h1v2h-1zM295 195h1v1h-1zM369 55h1v2h-1zM369 114h1v1h-1zM322 163h1v1h-1zM322 246h1v3h-1zM709 246h1v1h-1zM709 319h1v1h-1zM275 170h1v3h-1zM275 224h1v1h-1zM601 137h1v1h-1zM601 190h1v2h-1zM601 246h1v2h-1zM647 213h1v1h-1zM647 306h1v2h-1zM591 146h1v1h-1zM674 151h1v2h-1zM674 260h1v2h-1zM422 45h1v1h-1zM422 73h1v1h-1zM422 96h1v1h-1zM106 259h1v2h-1zM106 333h1v1h-1zM75 323h1v1h-1zM324 160h1v2h-1zM324 242h1v2h-1zM598 139h1v1h-1zM598 194h1v1h-1zM598 251h1v1h-1zM639 206h1v1h-1zM639 292h1v2h-1zM636 203h1v1h-1zM636 286h1v2h-1zM569 112h1v2h-1zM569 197h1v1h-1zM487 14h1v3h-1zM487 104h1v3h-1zM96 279h1v3h-1zM96 346h1v1h-1zM96 414h1v1h-1zM703 237h1v2h-1zM703 313h1v1h-1zM589 148h1v1h-1zM39 418h1v2h-1zM529 130h1v2h-1zM529 282h1v2h-1zM347 100h1v1h-1zM347 133h1v1h-1zM347 162h1v2h-1zM7 322h1v1h-1zM7 391h1v1h-1zM687 201h1v2h-1zM687 289h1v2h-1zM687 378h1v2h-1zM629 126h1v2h-1zM629 197h1v1h-1zM629 268h1v3h-1zM340 94h1v1h-1zM340 141h1v1h-1zM340 185h1v3h-1zM730 285h1v2h-1zM730 378h1v1h-1zM79 324h1v1h-1zM79 326h1v1h-1zM79 393h1v2h-1zM134 295h1v1h-1zM134 376h1v2h-1zM357 85h1v2h-1zM357 124h1v1h-1zM357 162h1v1h-1zM99 273h1v2h-1zM99 342h1v1h-1zM99 410h1v1h-1zM42 414h1v2h-1zM680 176h1v6h-1zM680 274h1v3h-1zM142 215h1v1h-1zM142 284h1v1h-1zM142 357h1v3h-1zM711 248h1v1h-1zM649 121h1v2h-1zM649 215h1v1h-1zM649 309h1v1h-1zM159 264h1v1h-1zM159 301h1v3h-1zM715 254h1v2h-1zM424 47h1v1h-1zM424 94h1v1h-1zM306 91h1v1h-1zM306 181h1v1h-1zM306 272h1v1h-1zM536 143h1v2h-1zM578 143h1v3h-1zM578 262h1v2h-1zM411 32h1v1h-1zM411 82h1v1h-1zM411 126h1v3h-1zM498 129h1v2h-1zM638 205h1v1h-1zM638 290h1v2h-1zM574 124h1v6h-1zM574 271h1v2h-1zM705 241h1v1h-1zM705 316h1v1h-1zM665 133h1v1h-1zM665 242h1v2h-1zM665 353h1v4h-1zM372 50h1v1h-1zM372 112h1v1h-1zM531 134h1v2h-1zM531 285h1v1h-1zM125 225h1v1h-1zM125 308h1v1h-1zM125 392h1v2h-1zM689 205h1v2h-1zM689 292h1v2h-1zM406 145h1v2h-1zM149 275h1v1h-1zM149 340h1v4h-1zM170 255h1v1h-1zM170 289h1v1h-1zM632 200h1v1h-1zM632 279h1v2h-1zM323 162h1v1h-1zM323 244h1v2h-1zM376 44h1v1h-1zM376 108h1v1h-1zM714 252h1v2h-1zM714 322h1v1h-1zM651 124h1v1h-1zM651 217h1v1h-1zM651 312h1v1h-1zM717 257h1v2h-1zM483 24h1v3h-1zM483 89h1v4h-1zM549 35h1v4h-1zM549 168h1v2h-1zM538 4h1v2h-1zM538 147h1v2h-1zM538 291h1v1h-1zM405 87h1v1h-1zM405 147h1v2h-1zM583 154h1v1h-1zM496 127h1v1h-1zM500 7h1v1h-1zM500 69h1v1h-1zM500 132h1v3h-1zM262 196h1v2h-1zM532 136h1v2h-1zM532 286h1v1h-1zM590 147h1v1h-1zM365 65h1v2h-1zM365 168h1v1h-1zM318 168h1v1h-1zM318 255h1v2h-1zM385 100h1v1h-1zM385 168h1v1h-1zM425 93h1v1h-1zM492 119h1v2h-1zM43 413h1v1h-1zM702 234h1v3h-1zM702 312h1v1h-1zM164 260h1v1h-1zM164 294h1v2h-1zM38 369h1v1h-1zM38 420h1v1h-1zM143 282h1v2h-1zM143 355h1v2h-1zM408 85h1v1h-1zM408 137h1v4h-1zM548 31h1v4h-1zM548 166h1v2h-1zM540 8h1v2h-1zM540 151h1v1h-1zM540 293h1v1h-1zM673 148h1v3h-1zM673 258h1v2h-1zM137 290h1v2h-1zM137 369h1v2h-1zM657 225h1v2h-1zM657 325h1v4h-1zM50 406h1v2h-1zM587 150h1v1h-1zM587 202h1v1h-1zM691 208h1v2h-1zM691 295h1v2h-1zM691 383h1v1h-1zM341 140h1v1h-1zM341 182h1v3h-1zM69 397h1v1h-1zM87 301h1v2h-1zM87 404h1v1h-1zM111 249h1v2h-1zM111 325h1v1h-1zM373 48h1v2h-1zM373 111h1v1h-1zM563 100h1v3h-1zM563 191h1v1h-1zM49 408h1v2h-1zM371 51h1v2h-1zM491 116h1v3h-1zM74 322h1v1h-1zM631 123h1v1h-1zM631 199h1v1h-1zM631 275h1v4h-1zM352 95h1v1h-1zM352 158h1v1h-1zM8 321h1v1h-1zM8 390h1v1h-1zM616 245h1v1h-1zM725 272h1v2h-1zM725 384h1v1h-1zM594 143h1v1h-1zM594 198h1v1h-1zM325 159h1v1h-1zM325 239h1v3h-1zM384 101h1v1h-1zM693 212h1v2h-1zM693 298h1v2h-1zM732 289h1v2h-1zM358 83h1v2h-1zM354 91h1v2h-1zM354 127h1v1h-1zM354 160h1v1h-1zM81 318h1v2h-1zM81 396h1v2h-1zM41 367h1v1h-1zM41 416h1v1h-1zM76 324h1v1h-1zM438 39h1v1h-1zM12 317h1v1h-1zM12 386h1v1h-1zM614 242h1v1h-1zM618 247h1v2h-1zM688 203h1v2h-1zM688 291h1v1h-1zM688 380h1v2h-1zM163 296h1v1h-1zM66 399h1v1h-1zM421 44h1v1h-1zM421 74h1v1h-1zM421 97h1v1h-1zM716 256h1v1h-1zM346 99h1v1h-1zM346 134h1v1h-1zM346 164h1v3h-1zM317 79h1v1h-1zM317 169h1v2h-1zM317 257h1v1h-1zM641 296h1v2h-1zM368 57h1v2h-1zM368 115h1v1h-1zM364 67h1v3h-1zM364 167h1v1h-1zM383 37h1v1h-1zM138 289h1v1h-1zM138 367h1v2h-1zM494 123h1v2h-1zM718 259h1v1h-1zM588 149h1v1h-1zM605 237h1v2h-1zM248 201h1v1h-1zM690 207h1v1h-1zM690 294h1v1h-1zM595 142h1v1h-1zM595 197h1v1h-1zM704 239h1v2h-1zM704 314h1v2h-1zM493 121h1v2h-1zM113 245h1v2h-1zM113 322h1v1h-1zM231 205h1v1h-1zM11 318h1v1h-1zM11 387h1v1h-1zM434 47h1v2h-1zM428 89h1v1h-1zM299 100h1v2h-1zM299 190h1v1h-1zM401 90h1v1h-1zM392 161h1v2h-1zM466 60h1v1h-1zM367 59h1v3h-1zM367 116h1v1h-1zM599 193h1v1h-1zM599 250h1v1h-1zM726 274h1v3h-1zM726 383h1v1h-1zM640 207h1v1h-1zM640 294h1v2h-1zM15 384h1v1h-1zM298 102h1v1h-1zM298 191h1v1h-1zM30 376h1v1h-1zM710 247h1v1h-1zM353 93h1v2h-1zM353 159h1v1h-1zM390 97h1v1h-1zM390 164h1v1h-1zM32 374h1v1h-1zM32 429h1v2h-1zM565 105h1v2h-1zM565 193h1v1h-1zM610 235h1v1h-1zM720 262h1v2h-1zM234 203h1v1h-1zM391 163h1v1h-1zM617 246h1v1h-1zM564 103h1v2h-1zM564 192h1v1h-1zM381 103h1v1h-1zM593 144h1v1h-1zM162 297h1v1h-1zM4 326h1v1h-1zM4 394h1v1h-1zM251 203h1v1h-1zM497 128h1v1h-1zM235 202h1v1h-1zM396 156h1v1h-1zM6 323h1v1h-1zM6 392h1v1h-1zM634 283h1v1h-1zM708 245h1v1h-1zM28 378h1v1h-1zM585 152h1v1h-1z"/>
<path fill="#00ff00" shape-rendering="crispEdges" d="M246 255h2v1h-2zM248 254h2v1h-2zM710 254h2v1h-2zM275 240h2v1h-2zM689 240h2v1h-2zM10 414h2v1h-2zM480 79h13v1h-13zM501 79h7v1h-7zM463 86h3v1h-3zM165 310h2v1h-2zM20 410h3v1h-3zM603 145h2v1h-2zM719 260h2v1h-2zM474 82h2v1h-2zM514 82h2v1h-2zM584 133h2v1h-2zM328 202h2v1h-2zM319 207h2v1h-2zM311 212h2v1h-2zM533 97h2v1h-2zM576 128h2v1h-2zM182 301h3v1h-3zM324 204h2v1h-2zM606 147h2v1h-2zM574 127h2v1h-2zM529 94h2v1h-2zM493 78h8v1h-8zM252 252h2v1h-2zM707 252h2v1h-2zM412 125h2v1h-2zM570 125h2v1h-2zM262 247h2v1h-2zM478 80h2v1h-2zM508 80h4v1h-4zM581 131h2v1h-2zM539 102h2v1h-2zM65 394h2v1h-2zM56 399h2v1h-2zM572 126h2v1h-2zM416 122h2v1h-2zM565 122h2v1h-2zM554 114h2v1h-2zM75 389h2v1h-2zM321 206h2v1h-2zM728 266h2v1h-2zM389 144h2v1h-2zM601 144h2v1h-2zM568 124h2v1h-2zM45 402h4v1h-4zM316 209h2v1h-2zM684 236h2v1h-2zM258 249h2v1h-2zM102 365h2v1h-2zM452 90h2v1h-2zM524 90h2v1h-2zM732 268h2v1h-2zM254 251h2v1h-2zM725 264h2v1h-2zM159 315h2v1h-2zM559 118h2v1h-2zM26 408h4v1h-4zM476 81h2v1h-2zM512 81h2v1h-2zM52 400h4v1h-4zM598 142h2v1h-2zM141 330h2v1h-2zM454 89h3v1h-3zM397 138h2v1h-2zM592 138h2v1h-2zM460 87h3v1h-3zM34 406h3v1h-3zM692 242h2v1h-2zM16 411h4v1h-4zM190 298h2v1h-2zM71 391h2v1h-2zM221 276h2v1h-2zM393 141h2v1h-2zM330 201h2v1h-2zM595 140h2v1h-2zM269 244h2v1h-2zM695 244h2v1h-2zM466 85h3v1h-3zM518 85h2v1h-2zM722 262h2v1h-2zM549 110h2v1h-2zM241 259h2v1h-2zM180 302h2v1h-2zM167 309h2v1h-2zM472 83h2v1h-2zM264 246h3v1h-3zM698 246h2v1h-2zM149 323h2v1h-2zM172 306h2v1h-2zM401 135h2v1h-2zM587 135h2v1h-2zM129 341h2v1h-2zM295 224h2v1h-2zM335 198h2v1h-2zM67 393h2v1h-2zM260 248h2v1h-2zM701 248h2v1h-2zM326 203h2v1h-2zM58 398h2v1h-2zM287 230h2v1h-2zM271 243h2v1h-2zM63 395h2v1h-2zM716 258h2v1h-2zM41 403h4v1h-4zM589 136h2v1h-2zM176 304h2v1h-2zM730 267h2v1h-2zM299 221h2v1h-2zM256 250h2v1h-2zM704 250h2v1h-2zM93 372h2v1h-2zM545 107h2v1h-2zM678 231h2v1h-2zM225 273h2v1h-2zM303 218h2v1h-2zM291 227h2v1h-2zM97 369h2v1h-2zM30 407h4v1h-4zM13 412h3v1h-3zM187 299h3v1h-3zM307 215h2v1h-2zM340 195h2v1h-2zM332 200h2v1h-2zM117 352h2v1h-2zM73 390h2v1h-2zM457 88h3v1h-3zM197 294h2v1h-2zM69 392h2v1h-2zM178 303h2v1h-2zM469 84h3v1h-3zM49 401h3v1h-3zM108 360h2v1h-2zM448 92h2v1h-2zM579 130h2v1h-2zM337 197h2v1h-2zM201 291h2v1h-2zM267 245h2v1h-2zM205 288h2v1h-2zM39 404h2v1h-2zM194 296h2v1h-2zM174 305h2v1h-2zM170 307h2v1h-2zM450 91h2v1h-2zM23 409h3v1h-3zM228 271h2v1h-2zM185 300h2v1h-2zM563 121h2v1h-2zM209 285h2v1h-2zM442 96h2v1h-2zM213 282h2v1h-2zM250 253h2v1h-2zM313 211h2v1h-2zM153 320h2v1h-2zM446 93h2v1h-2zM343 193h2v1h-2zM281 235h2v1h-2zM37 405h2v1h-2zM347 190h2v1h-2zM713 256h2v1h-2zM192 297h2v1h-2zM6 417h2v1h-2zM60 397h2v1h-2zM217 279h2v1h-2zM4 418h2v1h-2zM659 207h1v2h-1zM426 113h1v1h-1zM640 185h1v1h-1zM383 151h1v1h-1zM240 260h1v1h-1zM158 316h1v1h-1zM115 354h1v1h-1zM231 269h1v1h-1zM355 183h1v1h-1zM441 97h1v1h-1zM212 283h1v1h-1zM84 381h1v1h-1zM410 127h1v1h-1zM445 94h1v1h-1zM688 239h1v1h-1zM216 280h1v1h-1zM368 167h1v1h-1zM371 163h1v1h-1zM632 176h1v1h-1zM438 100h1v1h-1zM220 277h1v1h-1zM3 419h1v1h-1zM614 155h1v1h-1zM633 177h1v1h-1zM363 173h1v1h-1zM122 348h1v1h-1zM386 147h1v1h-1zM658 206h1v1h-1zM162 313h1v1h-1zM119 351h1v1h-1zM724 263h1v1h-1zM703 249h1v1h-1zM145 327h1v1h-1zM297 223h1v1h-1zM706 251h1v1h-1zM91 374h1v1h-1zM673 225h1v2h-1zM421 118h1v1h-1zM378 156h1v1h-1zM138 333h1v1h-1zM301 220h1v1h-1zM106 362h1v1h-1zM95 371h1v1h-1zM235 265h1v1h-1zM359 178h1v2h-1zM414 124h1v1h-1zM551 111h1v1h-1zM99 368h1v1h-1zM350 188h1v1h-1zM199 293h1v1h-1zM273 242h1v1h-1zM79 386h1v1h-1zM662 211h1v2h-1zM339 196h1v1h-1zM203 290h1v1h-1zM277 239h1v1h-1zM433 105h1v1h-1zM126 344h1v1h-1zM536 99h1v1h-1zM238 262h1v1h-1zM561 119h1v1h-1zM113 356h1v1h-1zM428 111h1v1h-1zM362 174h1v2h-1zM110 359h1v1h-1zM562 120h1v1h-1zM625 167h1v1h-1zM280 236h1v1h-1zM636 180h1v2h-1zM520 86h1v1h-1zM86 379h1v1h-1zM284 233h1v1h-1zM405 132h1v1h-1zM661 210h1v1h-1zM721 261h1v1h-1zM133 338h1v1h-1zM207 287h1v1h-1zM535 98h1v1h-1zM440 98h1v1h-1zM694 243h1v1h-1zM9 415h1v1h-1zM211 284h1v1h-1zM624 166h1v1h-1zM365 170h1v2h-1zM672 224h1v1h-1zM650 196h1v1h-1zM164 311h1v1h-1zM425 114h1v1h-1zM591 137h1v1h-1zM382 152h1v1h-1zM385 148h1v1h-1zM233 267h1v1h-1zM616 157h1v1h-1zM373 161h1v1h-1zM660 209h1v1h-1zM354 184h1v1h-1zM423 116h1v1h-1zM617 158h1v1h-1zM557 116h1v1h-1zM151 322h1v1h-1zM140 331h1v1h-1zM323 205h1v1h-1zM712 255h1v1h-1zM315 210h1v1h-1zM444 95h1v1h-1zM671 223h1v1h-1zM642 187h1v1h-1zM230 270h1v1h-1zM144 328h1v1h-1zM101 366h1v1h-1zM90 375h1v1h-1zM643 188h1v1h-1zM124 346h1v1h-1zM388 145h1v1h-1zM81 384h1v1h-1zM608 148h1v1h-1zM516 83h1v1h-1zM345 192h1v1h-1zM609 149h1v1h-1zM435 103h1v1h-1zM531 95h1v1h-1zM121 349h1v1h-1zM542 104h1v1h-1zM634 178h1v1h-1zM78 387h1v1h-1zM653 200h1v1h-1zM583 132h1v1h-1zM556 115h1v1h-1zM635 179h1v1h-1zM244 257h1v1h-1zM578 129h1v1h-1zM420 119h1v1h-1zM237 263h1v1h-1zM377 157h1v1h-1zM527 92h1v1h-1zM392 142h1v1h-1zM734 269h1v1h-1zM286 231h1v1h-1zM541 103h1v1h-1zM674 227h1v1h-1zM349 189h1v1h-1zM552 112h1v1h-1zM407 130h1v1h-1zM224 274h1v1h-1zM627 170h1v1h-1zM135 336h1v1h-1zM396 139h1v1h-1zM675 228h1v1h-1zM553 113h1v1h-1zM279 237h1v1h-1zM400 136h1v1h-1zM128 342h1v1h-1zM85 380h1v1h-1zM380 154h1v1h-1zM663 213h1v1h-1zM155 319h1v1h-1zM430 108h1v2h-1zM112 357h1v1h-1zM664 214h1v1h-1zM427 112h1v1h-1zM361 176h1v1h-1zM364 172h1v1h-1zM626 168h1v2h-1zM605 146h1v1h-1zM526 91h1v1h-1zM645 190h1v2h-1zM537 100h1v1h-1zM305 217h1v1h-1zM290 228h1v1h-1zM356 182h1v1h-1zM88 377h1v1h-1zM600 143h1v1h-1zM652 198h1v2h-1zM294 225h1v1h-1zM283 234h1v1h-1zM612 152h1v2h-1zM232 268h1v1h-1zM298 222h1v1h-1zM637 182h1v1h-1zM8 416h1v1h-1zM139 332h1v1h-1zM567 123h1v1h-1zM548 109h1v1h-1zM619 160h1v1h-1zM123 347h1v1h-1zM384 149h1v2h-1zM644 189h1v1h-1zM80 385h1v1h-1zM418 121h1v1h-1zM309 214h1v1h-1zM375 159h1v1h-1zM651 197h1v1h-1zM630 173h1v2h-1zM521 87h1v1h-1zM239 261h1v1h-1zM411 126h1v1h-1zM611 151h1v1h-1zM532 96h1v1h-1zM302 219h1v1h-1zM700 247h1v1h-1zM146 326h1v1h-1zM522 88h1v1h-1zM243 258h1v1h-1zM92 373h1v1h-1zM544 106h1v1h-1zM665 215h1v2h-1zM83 382h1v1h-1zM547 108h1v1h-1zM618 159h1v1h-1zM558 117h1v1h-1zM666 217h1v1h-1zM367 168h1v1h-1zM215 281h1v1h-1zM387 146h1v1h-1zM196 295h1v1h-1zM391 143h1v1h-1zM274 241h1v1h-1zM157 317h1v1h-1zM114 355h1v1h-1zM610 150h1v1h-1zM629 172h1v1h-1zM718 259h1v1h-1zM161 314h1v1h-1zM422 117h1v1h-1zM379 155h1v1h-1zM107 361h1v1h-1zM680 232h1v1h-1zM691 241h1v1h-1zM370 164h1v1h-1zM681 233h1v1h-1zM351 187h1v1h-1zM437 101h1v1h-1zM219 278h1v1h-1zM409 128h1v1h-1zM137 334h1v1h-1zM285 232h1v1h-1zM200 292h1v1h-1zM406 131h1v1h-1zM223 275h1v1h-1zM289 229h1v1h-1zM517 84h1v1h-1zM628 171h1v1h-1zM204 289h1v1h-1zM528 93h1v1h-1zM87 378h1v1h-1zM227 272h1v1h-1zM543 105h1v1h-1zM654 201h1v1h-1zM429 110h1v1h-1zM655 202h1v1h-1zM169 308h1v1h-1zM620 161h1v2h-1zM358 180h1v1h-1zM621 163h1v1h-1zM669 221h1v1h-1zM234 266h1v1h-1zM646 192h1v1h-1zM374 160h1v1h-1zM686 237h1v1h-1zM647 193h1v1h-1zM676 229h1v1h-1zM687 238h1v1h-1zM432 106h1v1h-1zM709 253h1v1h-1zM369 165h1v2h-1zM404 133h1v1h-1zM132 339h1v1h-1zM613 154h1v1h-1zM523 89h1v1h-1zM125 345h1v1h-1zM82 383h1v1h-1zM105 363h1v1h-1zM668 219h1v2h-1zM639 184h1v1h-1zM148 324h1v1h-1zM538 101h1v1h-1zM424 115h1v1h-1zM152 321h1v1h-1zM381 153h1v1h-1zM156 318h1v1h-1zM727 265h1v1h-1zM353 185h1v1h-1zM342 194h1v1h-1zM62 396h1v1h-1zM334 199h1v1h-1zM638 183h1v1h-1zM657 205h1v1h-1zM346 191h1v1h-1zM366 169h1v1h-1zM12 413h1v1h-1zM89 376h1v1h-1zM436 102h1v1h-1zM682 234h1v1h-1zM594 139h1v1h-1zM683 235h1v1h-1zM667 218h1v1h-1zM597 141h1v1h-1zM116 353h1v1h-1zM245 256h1v1h-1zM163 312h1v1h-1zM120 350h1v1h-1zM631 175h1v1h-1zM372 162h1v1h-1zM415 123h1v1h-1zM306 216h1v1h-1zM143 329h1v1h-1zM439 99h1v1h-1zM656 203h1v2h-1zM419 120h1v1h-1zM236 264h1v1h-1zM310 213h1v1h-1zM408 129h1v1h-1zM136 335h1v1h-1zM357 181h1v1h-1zM395 140h1v1h-1zM77 388h1v1h-1zM623 165h1v1h-1zM715 257h1v1h-1zM127 343h1v1h-1zM648 194h1v1h-1zM697 245h1v1h-1zM431 107h1v1h-1zM96 370h1v1h-1zM649 195h1v1h-1zM111 358h1v1h-1zM100 367h1v1h-1zM360 177h1v1h-1zM318 208h1v1h-1zM615 156h1v1h-1zM376 158h1v1h-1zM104 364h1v1h-1zM147 325h1v1h-1zM278 238h1v1h-1zM586 134h1v1h-1zM399 137h1v1h-1zM434 104h1v1h-1zM622 164h1v1h-1zM293 226h1v1h-1zM670 222h1v1h-1zM641 186h1v1h-1zM134 337h1v1h-1zM208 286h1v1h-1zM403 134h1v1h-1zM131 340h1v1h-1zM352 186h1v1h-1zM677 230h1v1h-1z"/>
<path fill="#ff0000" shape-rendering="crispEdges" d="M30 365h10v1h-10zM688 339h3v1h-3zM720 339h2v1h-2zM334 135h7v1h-7zM539 221h3v1h-3zM385 66h5v1h-5zM394 66h3v1h-3zM428 66h2v1h-2zM45 368h2v1h-2zM569 200h2v1h-2zM134 262h2v1h-2zM131 264h2v1h-2zM537 222h2v1h-2zM122 268h2v1h-2zM535 223h2v1h-2zM238 230h7v1h-7zM305 131h16v1h-16zM327 131h4v1h-4zM12 352h2v1h-2zM148 253h2v1h-2zM691 340h4v1h-4zM124 267h2v1h-2zM204 267h2v1h-2zM70 357h8v1h-8zM140 258h2v1h-2zM184 244h2v1h-2zM245 229h13v1h-13zM695 341h4v1h-4zM408 71h12v1h-12zM471 55h9v1h-9zM61 360h2v1h-2zM454 48h11v1h-11zM168 240h2v1h-2zM137 260h2v1h-2zM546 218h3v1h-3zM172 238h2v1h-2zM544 219h2v1h-2zM380 68h2v1h-2zM400 68h2v1h-2zM425 68h2v1h-2zM404 70h4v1h-4zM420 70h3v1h-3zM452 49h2v1h-2zM258 228h3v1h-3zM542 220h2v1h-2zM66 358h4v1h-4zM152 251h2v1h-2zM449 51h2v1h-2zM382 67h3v1h-3zM397 67h3v1h-3zM702 343h2v1h-2zM390 65h4v1h-4zM55 361h6v1h-6zM154 250h2v1h-2zM170 239h2v1h-2zM42 367h3v1h-3zM21 354h2v1h-2zM126 266h3v1h-3zM206 266h2v1h-2zM19 353h2v1h-2zM150 252h2v1h-2zM699 342h3v1h-3zM443 52h6v1h-6zM565 203h2v1h-2zM437 58h2v1h-2zM341 134h2v1h-2zM321 130h6v1h-6zM713 348h2v1h-2zM146 254h2v1h-2zM166 241h2v1h-2zM178 241h2v1h-2zM261 227h2v1h-2zM601 166h2v1h-2zM158 247h2v1h-2zM63 359h3v1h-3zM129 265h2v1h-2zM549 217h2v1h-2zM709 349h2v1h-2zM78 356h2v1h-2zM143 256h2v1h-2zM234 231h4v1h-4zM402 69h2v1h-2zM423 69h2v1h-2zM180 242h2v1h-2zM40 366h2v1h-2zM673 306h2v1h-2zM16 351h2v1h-2zM264 225h2v1h-2zM556 211h2v1h-2zM163 243h2v1h-2zM182 243h2v1h-2zM664 286h1v3h-1zM358 113h1v2h-1zM610 176h1v2h-1zM229 237h1v2h-1zM480 56h1v2h-1zM533 220h1v2h-1zM607 170h1v2h-1zM89 332h1v2h-1zM288 160h1v2h-1zM263 226h1v1h-1zM374 75h1v1h-1zM526 198h1v4h-1zM509 128h1v5h-1zM197 262h1v1h-1zM209 264h1v1h-1zM534 222h1v1h-1zM657 273h1v2h-1zM600 167h1v1h-1zM9 355h1v1h-1zM267 223h1v1h-1zM291 152h1v3h-1zM494 85h1v1h-1zM519 167h1v4h-1zM502 98h1v2h-1zM81 351h1v3h-1zM354 120h1v2h-1zM653 267h1v1h-1zM357 115h1v2h-1zM529 209h1v3h-1zM225 244h1v1h-1zM366 93h1v2h-1zM661 280h1v2h-1zM625 205h1v2h-1zM682 321h1v3h-1zM54 362h1v1h-1zM487 72h1v2h-1zM466 50h1v1h-1zM495 86h1v2h-1zM575 195h1v1h-1zM595 173h1v1h-1zM564 204h1v1h-1zM97 314h1v2h-1zM370 82h1v3h-1zM284 177h1v3h-1zM296 142h1v2h-1zM667 295h1v3h-1zM685 331h1v3h-1zM488 74h1v3h-1zM271 216h1v2h-1zM24 356h1v2h-1zM283 180h1v3h-1zM349 126h1v1h-1zM568 201h1v1h-1zM731 326h1v2h-1zM628 214h1v3h-1zM716 345h1v2h-1zM232 233h1v2h-1zM80 354h1v2h-1zM365 95h1v3h-1zM634 239h1v4h-1zM606 168h1v2h-1zM377 71h1v1h-1zM663 284h1v2h-1zM212 260h1v1h-1zM109 283h1v2h-1zM369 85h1v2h-1zM512 141h1v4h-1zM346 129h1v1h-1zM295 144h1v2h-1zM175 238h1v1h-1zM624 203h1v2h-1zM532 218h1v2h-1zM270 218h1v2h-1zM304 132h1v1h-1zM465 49h1v1h-1zM552 215h1v1h-1zM587 181h1v2h-1zM617 191h1v2h-1zM228 239h1v2h-1zM620 196h1v2h-1zM515 152h1v4h-1zM92 325h1v2h-1zM660 278h1v2h-1zM498 90h1v2h-1zM638 250h1v2h-1zM364 98h1v3h-1zM287 162h1v4h-1zM275 206h1v3h-1zM621 198h1v1h-1zM427 67h1v1h-1zM108 285h1v3h-1zM117 273h1v2h-1zM120 270h1v1h-1zM614 185h1v2h-1zM84 343h1v2h-1zM431 64h1v1h-1zM572 198h1v1h-1zM505 106h1v6h-1zM23 355h1v1h-1zM4 360h1v1h-1zM609 174h1v2h-1zM645 258h1v1h-1zM704 344h1v1h-1zM518 163h1v4h-1zM286 166h1v6h-1zM555 212h1v1h-1zM220 249h1v1h-1zM49 367h1v1h-1zM508 123h1v5h-1zM590 178h1v1h-1zM559 209h1v1h-1zM353 122h1v1h-1zM483 61h1v3h-1zM105 294h1v2h-1zM652 265h1v2h-1zM623 201h1v2h-1zM681 318h1v3h-1zM616 189h1v2h-1zM434 61h1v1h-1zM522 180h1v4h-1zM282 183h1v3h-1zM656 271h1v2h-1zM88 334h1v3h-1zM525 194h1v4h-1zM637 248h1v2h-1zM666 292h1v3h-1zM718 341h1v2h-1zM104 296h1v3h-1zM26 360h1v1h-1zM373 76h1v2h-1zM299 137h1v1h-1zM613 183h1v2h-1zM722 338h1v1h-1zM211 261h1v2h-1zM631 226h1v4h-1zM579 191h1v1h-1zM528 206h1v3h-1zM582 187h1v1h-1zM27 361h1v1h-1zM521 175h1v5h-1zM11 353h1v1h-1zM281 186h1v4h-1zM627 210h1v4h-1zM684 328h1v3h-1zM96 316h1v2h-1zM356 117h1v2h-1zM577 193h1v1h-1zM630 221h1v5h-1zM659 277h1v1h-1zM730 328h1v1h-1zM333 134h1v1h-1zM116 275h1v2h-1zM501 96h1v2h-1zM231 235h1v1h-1zM277 199h1v4h-1zM441 54h1v2h-1zM83 345h1v3h-1zM139 259h1v1h-1zM511 137h1v4h-1zM615 187h1v2h-1zM368 87h1v3h-1zM514 149h1v3h-1zM497 89h1v1h-1zM25 358h1v2h-1zM486 69h1v3h-1zM294 146h1v2h-1zM348 127h1v1h-1zM524 189h1v5h-1zM507 117h1v6h-1zM360 108h1v3h-1zM15 350h1v1h-1zM82 348h1v3h-1zM91 327h1v2h-1zM332 133h1v1h-1zM504 102h1v4h-1zM107 288h1v3h-1zM633 235h1v4h-1zM269 220h1v1h-1zM531 215h1v3h-1zM278 196h1v3h-1zM733 324h1v1h-1zM662 282h1v2h-1zM87 337h1v2h-1zM597 171h1v1h-1zM626 207h1v3h-1zM717 343h1v2h-1zM655 270h1v1h-1zM574 196h1v1h-1zM177 240h1v1h-1zM658 275h1v2h-1zM351 124h1v1h-1zM622 199h1v2h-1zM298 138h1v2h-1zM500 94h1v2h-1zM199 264h1v1h-1zM273 211h1v3h-1zM222 247h1v1h-1zM680 315h1v3h-1zM289 157h1v3h-1zM640 253h1v1h-1zM612 180h1v3h-1zM200 265h1v1h-1zM379 69h1v1h-1zM561 207h1v1h-1zM95 318h1v2h-1zM683 324h1v4h-1zM665 289h1v3h-1zM111 281h1v1h-1zM554 213h1v1h-1zM436 59h1v1h-1zM726 333h1v2h-1zM363 101h1v2h-1zM517 159h1v4h-1zM343 133h1v1h-1zM285 172h1v5h-1zM440 56h1v1h-1zM520 171h1v4h-1zM94 320h1v3h-1zM103 299h1v2h-1zM367 90h1v3h-1zM6 358h1v1h-1zM192 255h1v2h-1zM724 336h1v1h-1zM433 62h1v1h-1zM293 148h1v2h-1zM654 268h1v2h-1zM618 193h1v2h-1zM119 271h1v1h-1zM523 184h1v5h-1zM506 112h1v5h-1zM51 365h1v1h-1zM467 51h1v1h-1zM629 217h1v4h-1zM362 103h1v3h-1zM499 92h1v2h-1zM639 252h1v1h-1zM90 329h1v3h-1zM636 246h1v2h-1zM102 301h1v3h-1zM157 248h1v1h-1zM28 362h1v2h-1zM210 263h1v1h-1zM687 336h1v2h-1zM592 176h1v1h-1zM510 133h1v4h-1zM276 203h1v3h-1zM632 230h1v5h-1zM485 66h1v3h-1zM106 291h1v3h-1zM48 368h1v1h-1zM513 145h1v4h-1zM29 364h1v1h-1zM161 245h1v1h-1zM527 202h1v4h-1zM217 253h1v1h-1zM646 259h1v1h-1zM705 345h1v1h-1zM165 242h1v1h-1zM176 239h1v1h-1zM516 156h1v3h-1zM101 304h1v3h-1zM647 260h1v1h-1zM191 253h1v2h-1zM301 135h1v1h-1zM581 188h1v2h-1zM530 212h1v3h-1zM584 185h1v1h-1zM669 300h1v2h-1zM635 243h1v3h-1zM10 354h1v1h-1zM268 221h1v2h-1zM133 263h1v1h-1zM86 339h1v2h-1zM686 334h1v2h-1zM145 255h1v1h-1zM676 308h1v2h-1zM679 313h1v2h-1zM611 178h1v2h-1zM732 325h1v1h-1zM280 190h1v3h-1zM727 331h1v2h-1zM350 125h1v1h-1zM187 246h1v2h-1zM489 77h1v2h-1zM378 70h1v1h-1zM279 193h1v3h-1zM213 259h1v1h-1zM93 323h1v2h-1zM435 60h1v1h-1zM675 307h1v1h-1zM208 265h1v1h-1zM576 194h1v1h-1zM274 209h1v2h-1zM599 168h1v1h-1zM98 312h1v2h-1zM361 106h1v2h-1zM719 340h1v1h-1zM603 165h1v1h-1zM5 359h1v1h-1zM224 245h1v1h-1zM190 251h1v2h-1zM233 232h1v1h-1zM594 174h1v1h-1zM563 205h1v1h-1zM711 350h1v1h-1zM85 341h1v2h-1zM194 258h1v1h-1zM216 254h1v2h-1zM113 279h1v1h-1zM715 347h1v1h-1zM110 282h1v1h-1zM156 249h1v1h-1zM469 53h1v1h-1zM641 254h1v1h-1zM201 266h1v1h-1zM678 311h1v2h-1zM451 50h1v1h-1zM345 130h1v1h-1zM8 356h1v1h-1zM266 224h1v1h-1zM642 255h1v1h-1zM303 133h1v1h-1zM484 64h1v2h-1zM292 150h1v2h-1zM227 241h1v1h-1zM121 269h1v1h-1zM53 363h1v1h-1zM193 257h1v1h-1zM648 261h1v1h-1zM186 245h1v1h-1zM567 202h1v1h-1zM189 249h1v2h-1zM490 79h1v2h-1zM649 262h1v1h-1zM670 302h1v2h-1zM491 81h1v1h-1zM571 199h1v1h-1zM50 366h1v1h-1zM591 177h1v1h-1zM560 208h1v1h-1zM671 304h1v1h-1zM468 52h1v1h-1zM100 307h1v2h-1zM586 183h1v1h-1zM376 72h1v1h-1zM558 210h1v1h-1zM352 123h1v1h-1zM442 53h1v1h-1zM707 347h1v1h-1zM551 216h1v1h-1zM723 337h1v1h-1zM583 186h1v1h-1zM215 256h1v2h-1zM99 309h1v3h-1zM372 78h1v2h-1zM3 361h1v1h-1zM578 192h1v1h-1zM430 65h1v1h-1zM598 169h1v2h-1zM219 250h1v1h-1zM688 338h1v1h-1zM136 261h1v1h-1zM734 323h1v1h-1zM589 179h1v1h-1zM706 346h1v1h-1zM677 310h1v1h-1zM729 329h1v1h-1zM115 277h1v1h-1zM359 111h1v2h-1zM344 131h1v2h-1zM196 261h1v1h-1zM14 351h1v1h-1zM355 119h1v1h-1zM7 357h1v1h-1zM596 172h1v1h-1zM203 268h1v1h-1zM223 246h1v1h-1zM371 80h1v2h-1zM290 155h1v2h-1zM52 364h1v1h-1zM573 197h1v1h-1zM272 214h1v2h-1zM562 206h1v1h-1zM608 172h1v2h-1zM644 257h1v1h-1zM195 259h1v2h-1zM174 237h1v1h-1zM230 236h1v1h-1zM218 251h1v2h-1zM112 280h1v1h-1zM188 248h1v1h-1zM375 73h1v2h-1zM18 352h1v1h-1zM493 83h1v2h-1zM202 267h1v1h-1zM226 242h1v2h-1zM302 134h1v1h-1zM725 335h1v1h-1zM297 140h1v2h-1zM604 166h1v1h-1zM593 175h1v1h-1zM118 272h1v1h-1zM482 59h1v2h-1zM503 100h1v2h-1zM142 257h1v1h-1zM605 167h1v1h-1zM162 244h1v1h-1zM347 128h1v1h-1zM553 214h1v1h-1zM668 298h1v2h-1zM492 82h1v1h-1zM47 369h1v1h-1zM619 195h1v1h-1zM470 54h1v1h-1zM651 264h1v1h-1zM160 246h1v1h-1zM672 305h1v1h-1zM585 184h1v1h-1zM643 256h1v1h-1zM432 63h1v1h-1zM214 258h1v1h-1zM300 136h1v1h-1zM580 190h1v1h-1zM708 348h1v1h-1zM331 132h1v1h-1zM221 248h1v1h-1zM481 58h1v1h-1zM650 263h1v1h-1zM496 88h1v1h-1zM588 180h1v1h-1zM198 263h1v1h-1zM439 57h1v1h-1zM728 330h1v1h-1zM114 278h1v1h-1zM712 349h1v1h-1z"/>
<g shape-rendering="crispEdges" clip-path="url(#cm)">
<rect x="3" y="327" width="1" height="25" fill="#000"/>
<rect x="2" y="327" width="3" height="25" fill="#000"/>
<rect x="7" y="340" width="1" height="19" fill="#000"/>
<rect x="6" y="351" width="3" height="7" fill="#000"/>
<rect x="11" y="340" width="1" height="36" fill="#000"/>
<rect x="10" y="340" width="3" height="16" fill="#000"/>
<rect x="11" y="341" width="1" height="14" fill="#fff"/>
<rect x="15" y="339" width="1" height="10" fill="#000"/>
<rect x="14" y="341" width="3" height="6" fill="#000"/>
<rect x="19" y="347" width="1" height="66" fill="#000"/>
<rect x="18" y="348" width="3" height="51" fill="#000"/>
<rect x="23" y="398" width="1" height="8" fill="#000"/>
<rect x="22" y="399" width="3" height="1" fill="#000"/>
<rect x="27" y="376" width="1" height="16" fill="#000"/>
<rect x="26" y="378" width="3" height="11" fill="#000"/>
<rect x="27" y="379" width="1" height="9" fill="#fff"/>
<rect x="31" y="346" width="1" height="36" fill="#000"/>
<rect x="30" y="356" width="3" height="22" fill="#000"/>
<rect x="31" y="357" width="1" height="20" fill="#fff"/>
<rect x="35" y="347" width="1" height="12" fill="#000"/>
<rect x="34" y="354" width="3" height="3" fill="#000"/>
<rect x="35" y="355" width="1" height="1" fill="#fff"/>
<rect x="39" y="345" width="1" height="13" fill="#000"/>
<rect x="38" y="351" width="3" height="5" fill="#000"/>
<rect x="39" y="352" width="1" height="3" fill="#fff"/>
<rect x="43" y="349" width="1" height="13" fill="#000"/>
<rect x="42" y="350" width="3" height="11" fill="#000"/>
<rect x="47" y="353" width="1" height="10" fill="#000"/>
<rect x="46" y="359" width="3" height="3" fill="#000"/>
<rect x="47" y="360" width="1" height="1" fill="#fff"/>
<rect x="51" y="350" width="1" height="12" fill="#000"/>
<rect x="50" y="354" width="3" height="5" fill="#000"/>
<rect x="51" y="355" width="1" height="3" fill="#fff"/>
<rect x="55" y="355" width="1" height="35" fill="#000"/>
<rect x="54" y="356" width="3" height="23" fill="#000"/>
<rect x="59" y="350" width="1" height="32" fill="#000"/>
<rect x="58" y="364" width="3" height="15" fill="#000"/>
<rect x="59" y="365" width="1" height="13" fill="#fff"/>
<rect x="63" y="338" width="1" height="31" fill="#000"/>
<rect x="62" y="351" width="3" height="15" fill="#000"/>
<rect x="63" y="352" width="1" height="13" fill="#fff"/>
<rect x="67" y="345" width="1" height="17" fill="#000"/>
<rect x="66" y="347" width="3" height="4" fill="#000"/>
<rect x="67" y="348" width="1" height="2" fill="#fff"/>
<rect x="71" y="345" width="1" height="17" fill="#000"/>
<rect x="70" y="347" width="3" height="7" fill="#000"/>
<rect x="75" y="340" width="1" height="25" fill="#000"/>
<rect x="74" y="348" width="3" height="4" fill="#000"/>
<rect x="75" y="349" width="1" height="2" fill="#fff"/>
<rect x="79" y="332" width="1" height="24" fill="#000"/>
<rect x="78" y="346" width="3" height="2" fill="#000"/>
<rect x="83" y="281" width="1" height="95" fill="#000"/>
<rect x="82" y="287" width="3" height="60" fill="#000"/>
<rect x="83" y="288" width="1" height="58" fill="#fff"/>
<rect x="87" y="283" width="1" height="38" fill="#000"/>
<rect x="86" y="287" width="3" height="18" fill="#000"/>
<rect x="91" y="275" width="1" height="36" fill="#000"/>
<rect x="90" y="285" width="3" height="21" fill="#000"/>
<rect x="91" y="286" width="1" height="19" fill="#fff"/>
<rect x="95" y="278" width="1" height="17" fill="#000"/>
<rect x="94" y="280" width="3" height="6" fill="#000"/>
<rect x="95" y="281" width="1" height="4" fill="#fff"/>
<rect x="99" y="272" width="1" height="14" fill="#000"/>
<rect x="98" y="276" width="3" height="6" fill="#000"/>
<rect x="99" y="277" width="1" height="4" fill="#fff"/>
<rect x="103" y="273" width="1" height="11" fill="#000"/>
<rect x="102" y="273" width="3" height="2" fill="#000"/>
<rect x="107" y="264" width="1" height="14" fill="#000"/>
<rect x="106" y="266" width="3" height="11" fill="#000"/>
<rect x="107" y="267" width="1" height="9" fill="#fff"/>
<rect x="111" y="260" width="1" height="8" fill="#000"/>
<rect x="110" y="266" width="3" height="1" fill="#000"/>
<rect x="115" y="260" width="1" height="19" fill="#000"/>
<rect x="114" y="264" width="3" height="9" fill="#000"/>
<rect x="115" y="265" width="1" height="7" fill="#fff"/>
<rect x="119" y="256" width="1" height="11" fill="#000"/>
<rect x="118" y="256" width="3" height="8" fill="#000"/>
<rect x="119" y="257" width="1" height="6" fill="#fff"/>
<rect x="123" y="248" width="1" height="20" fill="#000"/>
<rect x="122" y="255" width="3" height="13" fill="#000"/>
<rect x="127" y="260" width="1" height="8" fill="#000"/>
<rect x="126" y="261" width="3" height="6" fill="#000"/>
<rect x="127" y="262" width="1" height="4" fill="#fff"/>
<rect x="131" y="258" width="1" height="5" fill="#000"/>
<rect x="130" y="258" width="3" height="3" fill="#000"/>
<rect x="131" y="259" width="1" height="1" fill="#fff"/>
<rect x="135" y="253" width="1" height="6" fill="#000"/>
<rect x="134" y="256" width="3" height="2" fill="#000"/>
<rect x="139" y="249" width="1" height="13" fill="#000"/>
<rect x="138" y="256" width="3" height="2" fill="#000"/>
<rect x="143" y="224" width="1" height="34" fill="#000"/>
<rect x="142" y="238" width="3" height="20" fill="#000"/>
<rect x="143" y="239" width="1" height="18" fill="#fff"/>
<rect x="147" y="236" width="1" height="12" fill="#000"/>
<rect x="146" y="237" width="3" height="2" fill="#000"/>
<rect x="151" y="231" width="1" height="37" fill="#000"/>
<rect x="150" y="236" width="3" height="24" fill="#000"/>
<rect x="155" y="238" width="1" height="24" fill="#000"/>
<rect x="154" y="248" width="3" height="13" fill="#000"/>
<rect x="155" y="249" width="1" height="11" fill="#fff"/>
<rect x="159" y="213" width="1" height="35" fill="#000"/>
<rect x="158" y="220" width="3" height="27" fill="#000"/>
<rect x="159" y="221" width="1" height="25" fill="#fff"/>
<rect x="163" y="209" width="1" height="30" fill="#000"/>
<rect x="162" y="219" width="3" height="11" fill="#000"/>
<rect x="167" y="220" width="1" height="41" fill="#000"/>
<rect x="166" y="230" width="3" height="15" fill="#000"/>
<rect x="171" y="206" width="1" height="43" fill="#000"/>
<rect x="170" y="213" width="3" height="31" fill="#000"/>
<rect x="171" y="214" width="1" height="29" fill="#fff"/>
<rect x="175" y="203" width="1" height="62" fill="#000"/>
<rect x="174" y="212" width="3" height="40" fill="#000"/>
<rect x="179" y="248" width="1" height="47" fill="#000"/>
<rect x="178" y="253" width="3" height="15" fill="#000"/>
<rect x="183" y="254" width="1" height="36" fill="#000"/>
<rect x="182" y="267" width="3" height="2" fill="#000"/>
<rect x="187" y="263" width="1" height="25" fill="#000"/>
<rect x="186" y="267" width="3" height="16" fill="#000"/>
<rect x="191" y="270" width="1" height="28" fill="#000"/>
<rect x="190" y="276" width="3" height="8" fill="#000"/>
<rect x="191" y="277" width="1" height="6" fill="#fff"/>
<rect x="195" y="266" width="1" height="14" fill="#000"/>
<rect x="194" y="278" width="3" height="2" fill="#000"/>
<rect x="199" y="278" width="1" height="20" fill="#000"/>
<rect x="198" y="280" width="3" height="14" fill="#000"/>
<rect x="199" y="281" width="1" height="12" fill="#fff"/>
<rect x="203" y="242" width="1" height="26" fill="#000"/>
<rect x="202" y="242" width="3" height="24" fill="#000"/>
<rect x="203" y="243" width="1" height="22" fill="#fff"/>
<rect x="207" y="222" width="1" height="30" fill="#000"/>
<rect x="206" y="226" width="3" height="16" fill="#000"/>
<rect x="207" y="227" width="1" height="14" fill="#fff"/>
<rect x="211" y="224" width="1" height="15" fill="#000"/>
<rect x="210" y="226" width="3" height="12" fill="#000"/>
<rect x="215" y="226" width="1" height="12" fill="#000"/>
<rect x="214" y="236" width="3" height="1" fill="#000"/>
<rect x="219" y="236" width="1" height="2" fill="#000"/>
<rect x="218" y="236" width="3" height="2" fill="#000"/>
<rect x="223" y="234" width="1" height="8" fill="#000"/>
<rect x="222" y="234" width="3" height="4" fill="#000"/>
<rect x="223" y="235" width="1" height="2" fill="#fff"/>
<rect x="227" y="228" width="1" height="9" fill="#000"/>
<rect x="226" y="234" width="3" height="1" fill="#000"/>
<rect x="231" y="223" width="1" height="27" fill="#000"/>
<rect x="230" y="224" width="3" height="11" fill="#000"/>
<rect x="231" y="225" width="1" height="9" fill="#fff"/>
<rect x="235" y="214" width="1" height="28" fill="#000"/>
<rect x="234" y="217" width="3" height="6" fill="#000"/>
<rect x="235" y="218" width="1" height="4" fill="#fff"/>
<rect x="239" y="210" width="1" height="28" fill="#000"/>
<rect x="238" y="217" width="3" height="11" fill="#000"/>
<rect x="243" y="218" width="1" height="12" fill="#000"/>
<rect x="242" y="221" width="3" height="6" fill="#000"/>
<rect x="243" y="222" width="1" height="4" fill="#fff"/>
<rect x="247" y="220" width="1" height="19" fill="#000"/>
<rect x="246" y="220" width="3" height="17" fill="#000"/>
<rect x="251" y="230" width="1" height="19" fill="#000"/>
<rect x="250" y="236" width="3" height="1" fill="#000"/>
<rect x="255" y="212" width="1" height="28" fill="#000"/>
<rect x="254" y="235" width="3" height="2" fill="#000"/>
<rect x="259" y="220" width="1" height="21" fill="#000"/>
<rect x="258" y="224" width="3" height="13" fill="#000"/>
<rect x="259" y="225" width="1" height="11" fill="#fff"/>
<rect x="263" y="189" width="1" height="38" fill="#000"/>
<rect x="262" y="199" width="3" height="25" fill="#000"/>
<rect x="263" y="200" width="1" height="23" fill="#fff"/>
<rect x="267" y="195" width="1" height="17" fill="#000"/>
<rect x="266" y="198" width="3" height="11" fill="#000"/>
<rect x="271" y="164" width="1" height="44" fill="#000"/>
<rect x="270" y="167" width="3" height="41" fill="#000"/>
<rect x="271" y="168" width="1" height="39" fill="#fff"/>
<rect x="275" y="138" width="1" height="28" fill="#000"/>
<rect x="274" y="144" width="3" height="22" fill="#000"/>
<rect x="275" y="145" width="1" height="20" fill="#fff"/>
<rect x="279" y="128" width="1" height="18" fill="#000"/>
<rect x="278" y="133" width="3" height="13" fill="#000"/>
<rect x="279" y="134" width="1" height="11" fill="#fff"/>
<rect x="283" y="122" width="1" height="14" fill="#000"/>
<rect x="282" y="124" width="3" height="11" fill="#000"/>
<rect x="283" y="125" width="1" height="9" fill="#fff"/>
<rect x="287" y="124" width="1" height="13" fill="#000"/>
<rect x="286" y="125" width="3" height="3" fill="#000"/>
<rect x="291" y="122" width="1" height="9" fill="#000"/>
<rect x="290" y="127" width="3" height="1" fill="#000"/>
<rect x="295" y="125" width="1" height="16" fill="#000"/>
<rect x="294" y="127" width="3" height="12" fill="#000"/>
<rect x="299" y="132" width="1" height="10" fill="#000"/>
<rect x="298" y="136" width="3" height="3" fill="#000"/>
<rect x="299" y="137" width="1" height="1" fill="#fff"/>
<rect x="303" y="124" width="1" height="12" fill="#000"/>
<rect x="302" y="126" width="3" height="9" fill="#000"/>
<rect x="303" y="127" width="1" height="7" fill="#fff"/>
<rect x="307" y="125" width="1" height="12" fill="#000"/>
<rect x="306" y="128" width="3" height="4" fill="#000"/>
<rect x="311" y="131" width="1" height="7" fill="#000"/>
<rect x="310" y="132" width="3" height="3" fill="#000"/>
<rect x="315" y="132" width="1" height="3" fill="#000"/>
<rect x="314" y="132" width="3" height="3" fill="#000"/>
<rect x="315" y="133" width="1" height="1" fill="#fff"/>
<rect x="319" y="120" width="1" height="15" fill="#000"/>
<rect x="318" y="123" width="3" height="11" fill="#000"/>
<rect x="319" y="124" width="1" height="9" fill="#fff"/>
<rect x="323" y="104" width="1" height="25" fill="#000"/>
<rect x="322" y="117" width="3" height="7" fill="#000"/>
<rect x="323" y="118" width="1" height="5" fill="#fff"/>
<rect x="327" y="112" width="1" height="26" fill="#000"/>
<rect x="326" y="118" width="3" height="19" fill="#000"/>
<rect x="331" y="136" width="1" height="32" fill="#000"/>
<rect x="330" y="137" width="3" height="21" fill="#000"/>
<rect x="335" y="144" width="1" height="16" fill="#000"/>
<rect x="334" y="147" width="3" height="10" fill="#000"/>
<rect x="335" y="148" width="1" height="8" fill="#fff"/>
<rect x="339" y="127" width="1" height="21" fill="#000"/>
<rect x="338" y="134" width="3" height="13" fill="#000"/>
<rect x="339" y="135" width="1" height="11" fill="#fff"/>
<rect x="343" y="112" width="1" height="31" fill="#000"/>
<rect x="342" y="114" width="3" height="20" fill="#000"/>
<rect x="343" y="115" width="1" height="18" fill="#fff"/>
<rect x="347" y="84" width="1" height="32" fill="#000"/>
<rect x="346" y="96" width="3" height="19" fill="#000"/>
<rect x="347" y="97" width="1" height="17" fill="#fff"/>
<rect x="351" y="77" width="1" height="24" fill="#000"/>
<rect x="350" y="96" width="3" height="4" fill="#000"/>
<rect x="355" y="62" width="1" height="42" fill="#000"/>
<rect x="354" y="77" width="3" height="23" fill="#000"/>
<rect x="355" y="78" width="1" height="21" fill="#fff"/>
<rect x="359" y="68" width="1" height="13" fill="#000"/>
<rect x="358" y="75" width="3" height="5" fill="#000"/>
<rect x="363" y="74" width="1" height="10" fill="#000"/>
<rect x="362" y="75" width="3" height="5" fill="#000"/>
<rect x="363" y="76" width="1" height="3" fill="#fff"/>
<rect x="367" y="45" width="1" height="30" fill="#000"/>
<rect x="366" y="56" width="3" height="18" fill="#000"/>
<rect x="367" y="57" width="1" height="16" fill="#fff"/>
<rect x="371" y="56" width="1" height="5" fill="#000"/>
<rect x="370" y="56" width="3" height="5" fill="#000"/>
<rect x="375" y="53" width="1" height="14" fill="#000"/>
<rect x="374" y="58" width="3" height="4" fill="#000"/>
<rect x="375" y="59" width="1" height="2" fill="#fff"/>
<rect x="379" y="58" width="1" height="7" fill="#000"/>
<rect x="378" y="59" width="3" height="5" fill="#000"/>
<rect x="379" y="60" width="1" height="3" fill="#fff"/>
<rect x="383" y="52" width="1" height="26" fill="#000"/>
<rect x="382" y="54" width="3" height="15" fill="#000"/>
<rect x="387" y="69" width="1" height="15" fill="#000"/>
<rect x="386" y="70" width="3" height="4" fill="#000"/>
<rect x="391" y="72" width="1" height="10" fill="#000"/>
<rect x="390" y="75" width="3" height="3" fill="#000"/>
<rect x="395" y="73" width="1" height="6" fill="#000"/>
<rect x="394" y="75" width="3" height="3" fill="#000"/>
<rect x="395" y="76" width="1" height="1" fill="#fff"/>
<rect x="399" y="75" width="1" height="6" fill="#000"/>
<rect x="398" y="75" width="3" height="1" fill="#000"/>
<rect x="403" y="73" width="1" height="7" fill="#000"/>
<rect x="402" y="75" width="3" height="4" fill="#000"/>
<rect x="407" y="63" width="1" height="16" fill="#000"/>
<rect x="406" y="64" width="3" height="14" fill="#000"/>
<rect x="407" y="65" width="1" height="12" fill="#fff"/>
<rect x="411" y="53" width="1" height="24" fill="#000"/>
<rect x="410" y="65" width="3" height="11" fill="#000"/>
<rect x="415" y="55" width="1" height="33" fill="#000"/>
<rect x="414" y="58" width="3" height="18" fill="#000"/>
<rect x="415" y="59" width="1" height="16" fill="#fff"/>
<rect x="419" y="56" width="1" height="12" fill="#000"/>
<rect x="418" y="58" width="3" height="7" fill="#000"/>
<rect x="423" y="62" width="1" height="16" fill="#000"/>
<rect x="422" y="63" width="3" height="5" fill="#000"/>
<rect x="427" y="56" width="1" height="13" fill="#000"/>
<rect x="426" y="60" width="3" height="6" fill="#000"/>
<rect x="427" y="61" width="1" height="4" fill="#fff"/>
<rect x="431" y="58" width="1" height="13" fill="#000"/>
<rect x="430" y="60" width="3" height="1" fill="#000"/>
<rect x="435" y="35" width="1" height="26" fill="#000"/>
<rect x="434" y="38" width="3" height="22" fill="#000"/>
<rect x="435" y="39" width="1" height="20" fill="#fff"/>
<rect x="439" y="24" width="1" height="14" fill="#000"/>
<rect x="438" y="32" width="3" height="6" fill="#000"/>
<rect x="439" y="33" width="1" height="4" fill="#fff"/>
<rect x="443" y="30" width="1" height="26" fill="#000"/>
<rect x="442" y="33" width="3" height="7" fill="#000"/>
<rect x="447" y="38" width="1" height="16" fill="#000"/>
<rect x="446" y="41" width="3" height="12" fill="#000"/>
<rect x="451" y="38" width="1" height="12" fill="#000"/>
<rect x="450" y="45" width="3" height="3" fill="#000"/>
<rect x="455" y="46" width="1" height="19" fill="#000"/>
<rect x="454" y="47" width="3" height="15" fill="#000"/>
<rect x="459" y="54" width="1" height="10" fill="#000"/>
<rect x="458" y="58" width="3" height="3" fill="#000"/>
<rect x="459" y="59" width="1" height="1" fill="#fff"/>
<rect x="463" y="56" width="1" height="7" fill="#000"/>
<rect x="462" y="58" width="3" height="3" fill="#000"/>
<rect x="467" y="59" width="1" height="4" fill="#000"/>
<rect x="466" y="59" width="3" height="3" fill="#000"/>
<rect x="471" y="57" width="1" height="6" fill="#000"/>
<rect x="470" y="61" width="3" height="1" fill="#000"/>
<rect x="475" y="48" width="1" height="16" fill="#000"/>
<rect x="474" y="50" width="3" height="13" fill="#000"/>
<rect x="475" y="51" width="1" height="11" fill="#fff"/>
<rect x="479" y="33" width="1" height="19" fill="#000"/>
<rect x="478" y="43" width="3" height="9" fill="#000"/>
<rect x="479" y="44" width="1" height="7" fill="#fff"/>
<rect x="483" y="39" width="1" height="82" fill="#000"/>
<rect x="482" y="42" width="3" height="70" fill="#000"/>
<rect x="487" y="100" width="1" height="42" fill="#000"/>
<rect x="486" y="112" width="3" height="23" fill="#000"/>
<rect x="491" y="110" width="1" height="37" fill="#000"/>
<rect x="490" y="134" width="3" height="5" fill="#000"/>
<rect x="495" y="93" width="1" height="48" fill="#000"/>
<rect x="494" y="103" width="3" height="35" fill="#000"/>
<rect x="495" y="104" width="1" height="33" fill="#fff"/>
<rect x="499" y="94" width="1" height="26" fill="#000"/>
<rect x="498" y="102" width="3" height="1" fill="#000"/>
<rect x="503" y="84" width="1" height="68" fill="#000"/>
<rect x="502" y="104" width="3" height="43" fill="#000"/>
<rect x="507" y="145" width="1" height="87" fill="#000"/>
<rect x="506" y="146" width="3" height="78" fill="#000"/>
<rect x="511" y="198" width="1" height="37" fill="#000"/>
<rect x="510" y="223" width="3" height="1" fill="#000"/>
<rect x="515" y="201" width="1" height="27" fill="#000"/>
<rect x="514" y="209" width="3" height="15" fill="#000"/>
<rect x="515" y="210" width="1" height="13" fill="#fff"/>
<rect x="519" y="208" width="1" height="29" fill="#000"/>
<rect x="518" y="208" width="3" height="27" fill="#000"/>
<rect x="523" y="213" width="1" height="55" fill="#000"/>
<rect x="522" y="236" width="3" height="23" fill="#000"/>
<rect x="527" y="248" width="1" height="16" fill="#000"/>
<rect x="526" y="255" width="3" height="5" fill="#000"/>
<rect x="527" y="256" width="1" height="3" fill="#fff"/>
<rect x="531" y="193" width="1" height="84" fill="#000"/>
<rect x="530" y="195" width="3" height="61" fill="#000"/>
<rect x="531" y="196" width="1" height="59" fill="#fff"/>
<rect x="535" y="180" width="1" height="23" fill="#000"/>
<rect x="534" y="188" width="3" height="6" fill="#000"/>
<rect x="535" y="189" width="1" height="4" fill="#fff"/>
<rect x="539" y="187" width="1" height="15" fill="#000"/>
<rect x="538" y="192" width="3" height="6" fill="#000"/>
<rect x="543" y="198" width="1" height="26" fill="#000"/>
<rect x="542" y="198" width="3" height="24" fill="#000"/>
<rect x="547" y="213" width="1" height="21" fill="#000"/>
<rect x="546" y="217" width="3" height="5" fill="#000"/>
<rect x="547" y="218" width="1" height="3" fill="#fff"/>
<rect x="551" y="205" width="1" height="17" fill="#000"/>
<rect x="550" y="206" width="3" height="10" fill="#000"/>
<rect x="551" y="207" width="1" height="8" fill="#fff"/>
<rect x="555" y="201" width="1" height="13" fill="#000"/>
<rect x="554" y="210" width="3" height="1" fill="#000"/>
<rect x="559" y="196" width="1" height="17" fill="#000"/>
<rect x="558" y="198" width="3" height="11" fill="#000"/>
<rect x="559" y="199" width="1" height="9" fill="#fff"/>
<rect x="563" y="182" width="1" height="18" fill="#000"/>
<rect x="562" y="186" width="3" height="13" fill="#000"/>
<rect x="563" y="187" width="1" height="11" fill="#fff"/>
<rect x="567" y="176" width="1" height="31" fill="#000"/>
<rect x="566" y="186" width="3" height="18" fill="#000"/>
<rect x="571" y="164" width="1" height="46" fill="#000"/>
<rect x="570" y="170" width="3" height="32" fill="#000"/>
<rect x="571" y="171" width="1" height="30" fill="#fff"/>
<rect x="575" y="167" width="1" height="11" fill="#000"/>
<rect x="574" y="169" width="3" height="9" fill="#000"/>
<rect x="579" y="162" width="1" height="21" fill="#000"/>
<rect x="578" y="163" width="3" height="14" fill="#000"/>
<rect x="579" y="164" width="1" height="12" fill="#fff"/>
<rect x="583" y="160" width="1" height="28" fill="#000"/>
<rect x="582" y="164" width="3" height="8" fill="#000"/>
<rect x="587" y="160" width="1" height="13" fill="#000"/>
<rect x="586" y="169" width="3" height="3" fill="#000"/>
<rect x="587" y="170" width="1" height="1" fill="#fff"/>
<rect x="591" y="150" width="1" height="22" fill="#000"/>
<rect x="590" y="165" width="3" height="4" fill="#000"/>
<rect x="591" y="166" width="1" height="2" fill="#fff"/>
<rect x="595" y="153" width="1" height="40" fill="#000"/>
<rect x="594" y="164" width="3" height="15" fill="#000"/>
<rect x="599" y="99" width="1" height="81" fill="#000"/>
<rect x="598" y="148" width="3" height="31" fill="#000"/>
<rect x="599" y="149" width="1" height="29" fill="#fff"/>
<rect x="603" y="130" width="1" height="22" fill="#000"/>
<rect x="602" y="145" width="3" height="3" fill="#000"/>
<rect x="603" y="146" width="1" height="1" fill="#fff"/>
<rect x="607" y="141" width="1" height="103" fill="#000"/>
<rect x="606" y="144" width="3" height="82" fill="#000"/>
<rect x="611" y="204" width="1" height="33" fill="#000"/>
<rect x="610" y="224" width="3" height="8" fill="#000"/>
<rect x="615" y="228" width="1" height="11" fill="#000"/>
<rect x="614" y="232" width="3" height="2" fill="#000"/>
<rect x="619" y="230" width="1" height="9" fill="#000"/>
<rect x="618" y="233" width="3" height="3" fill="#000"/>
<rect x="619" y="234" width="1" height="1" fill="#fff"/>
<rect x="623" y="224" width="1" height="10" fill="#000"/>
<rect x="622" y="225" width="3" height="8" fill="#000"/>
<rect x="623" y="226" width="1" height="6" fill="#fff"/>
<rect x="627" y="248" width="1" height="54" fill="#000"/>
<rect x="626" y="249" width="3" height="27" fill="#000"/>
<rect x="631" y="263" width="1" height="21" fill="#000"/>
<rect x="630" y="273" width="3" height="10" fill="#000"/>
<rect x="635" y="263" width="1" height="20" fill="#000"/>
<rect x="634" y="270" width="3" height="12" fill="#000"/>
<rect x="635" y="271" width="1" height="10" fill="#fff"/>
<rect x="639" y="268" width="1" height="4" fill="#000"/>
<rect x="638" y="270" width="3" height="1" fill="#000"/>
<rect x="643" y="265" width="1" height="9" fill="#000"/>
<rect x="642" y="269" width="3" height="3" fill="#000"/>
<rect x="643" y="270" width="1" height="1" fill="#fff"/>
<rect x="647" y="266" width="1" height="7" fill="#000"/>
<rect x="646" y="268" width="3" height="3" fill="#000"/>
<rect x="647" y="269" width="1" height="1" fill="#fff"/>
<rect x="651" y="256" width="1" height="21" fill="#000"/>
<rect x="650" y="263" width="3" height="7" fill="#000"/>
<rect x="651" y="264" width="1" height="5" fill="#fff"/>
<rect x="655" y="261" width="1" height="33" fill="#000"/>
<rect x="654" y="264" width="3" height="22" fill="#000"/>
<rect x="659" y="275" width="1" height="77" fill="#000"/>
<rect x="658" y="286" width="3" height="50" fill="#000"/>
<rect x="663" y="316" width="1" height="23" fill="#000"/>
<rect x="662" y="328" width="3" height="9" fill="#000"/>
<rect x="663" y="329" width="1" height="7" fill="#fff"/>
<rect x="667" y="323" width="1" height="39" fill="#000"/>
<rect x="666" y="328" width="3" height="30" fill="#000"/>
<rect x="671" y="331" width="1" height="31" fill="#000"/>
<rect x="670" y="334" width="3" height="24" fill="#000"/>
<rect x="671" y="335" width="1" height="22" fill="#fff"/>
<rect x="675" y="285" width="1" height="52" fill="#000"/>
<rect x="674" y="294" width="3" height="40" fill="#000"/>
<rect x="675" y="295" width="1" height="38" fill="#fff"/>
<rect x="679" y="279" width="1" height="58" fill="#000"/>
<rect x="678" y="296" width="3" height="39" fill="#000"/>
<rect x="683" y="334" width="1" height="67" fill="#000"/>
<rect x="682" y="334" width="3" height="18" fill="#000"/>
<rect x="687" y="330" width="1" height="49" fill="#000"/>
<rect x="686" y="353" width="3" height="25" fill="#000"/>
<rect x="691" y="331" width="1" height="47" fill="#000"/>
<rect x="690" y="333" width="3" height="45" fill="#000"/>
<rect x="691" y="334" width="1" height="43" fill="#fff"/>
<rect x="695" y="331" width="1" height="51" fill="#000"/>
<rect x="694" y="332" width="3" height="20" fill="#000"/>
<rect x="699" y="339" width="1" height="23" fill="#000"/>
<rect x="698" y="350" width="3" height="8" fill="#000"/>
<rect x="703" y="346" width="1" height="12" fill="#000"/>
<rect x="702" y="348" width="3" height="9" fill="#000"/>
<rect x="703" y="349" width="1" height="7" fill="#fff"/>
<rect x="707" y="339" width="1" height="18" fill="#000"/>
<rect x="706" y="344" width="3" height="7" fill="#000"/>
<rect x="707" y="345" width="1" height="5" fill="#fff"/>
<rect x="711" y="308" width="1" height="32" fill="#000"/>
<rect x="710" y="336" width="3" height="2" fill="#000"/>
<rect x="715" y="324" width="1" height="12" fill="#000"/>
<rect x="714" y="324" width="3" height="12" fill="#000"/>
<rect x="715" y="325" width="1" height="10" fill="#fff"/>
<rect x="719" y="308" width="1" height="20" fill="#000"/>
<rect x="718" y="318" width="3" height="6" fill="#000"/>
<rect x="719" y="319" width="1" height="4" fill="#fff"/>
<rect x="723" y="310" width="1" height="10" fill="#000"/>
<rect x="722" y="310" width="3" height="8" fill="#000"/>
<rect x="723" y="311" width="1" height="6" fill="#fff"/>
<rect x="727" y="306" width="1" height="12" fill="#000"/>
<rect x="726" y="311" width="3" height="1" fill="#000"/>
<rect x="731" y="309" width="1" height="9" fill="#000"/>
<rect x="730" y="313" width="3" height="4" fill="#000"/>
<rect x="735" y="314" width="1" height="4" fill="#000"/>
<rect x="734" y="315" width="3" height="2" fill="#000"/>
</g>
<path fill="#1e90ff" shape-rendering="crispEdges" d="M91 483h2v1h-2zM123 483h2v1h-2zM19 512h5v1h-5zM194 512h6v1h-6zM715 512h2v1h-2zM114 477h3v1h-3zM300 477h2v1h-2zM319 477h2v1h-2zM359 477h2v1h-2zM594 509h2v1h-2zM721 509h2v1h-2zM726 509h3v1h-3zM55 508h2v1h-2zM179 508h5v1h-5zM723 508h3v1h-3zM4 492h2v1h-2zM402 492h2v1h-2zM420 492h2v1h-2zM478 492h2v1h-2zM105 479h2v1h-2zM131 479h9v1h-9zM309 479h2v1h-2zM435 479h3v1h-3zM331 504h2v1h-2zM355 475h2v1h-2zM371 475h3v1h-3zM378 475h2v1h-2zM107 478h7v1h-7zM295 478h5v1h-5zM307 478h2v1h-2zM438 478h2v1h-2zM533 519h2v1h-2zM537 519h2v1h-2zM709 519h2v1h-2zM242 493h2v1h-2zM449 494h3v1h-3zM46 500h3v1h-3zM71 500h2v1h-2zM635 529h11v1h-11zM98 480h7v1h-7zM129 480h2v1h-2zM311 480h3v1h-3zM415 487h2v1h-2zM143 473h5v1h-5zM191 511h3v1h-3zM717 511h2v1h-2zM731 511h3v1h-3zM430 491h2v1h-2zM571 506h2v1h-2zM586 506h3v1h-3zM95 481h3v1h-3zM127 481h2v1h-2zM314 481h2v1h-2zM348 481h2v1h-2zM551 521h5v1h-5zM691 521h2v1h-2zM705 521h2v1h-2zM611 524h3v1h-3zM695 524h3v1h-3zM700 524h2v1h-2zM531 520h2v1h-2zM675 520h2v1h-2zM707 520h2v1h-2zM222 495h6v1h-6zM447 495h2v1h-2zM387 488h2v1h-2zM33 497h2v1h-2zM66 497h2v1h-2zM78 497h2v1h-2zM602 497h2v1h-2zM31 498h2v1h-2zM63 498h3v1h-3zM68 498h2v1h-2zM75 498h3v1h-3zM599 498h3v1h-3zM649 527h2v1h-2zM35 496h5v1h-5zM211 496h11v1h-11zM49 499h3v1h-3zM73 499h2v1h-2zM589 505h2v1h-2zM520 543h2v1h-2zM666 543h2v1h-2zM170 485h2v1h-2zM263 485h2v1h-2zM543 526h2v1h-2zM719 510h2v1h-2zM729 510h2v1h-2zM535 518h2v1h-2zM188 513h2v1h-2zM545 525h2v1h-2zM614 525h6v1h-6zM698 525h2v1h-2zM117 476h3v1h-3zM304 476h2v1h-2zM321 476h3v1h-3zM357 476h2v1h-2zM361 476h2v1h-2zM83 482h2v1h-2zM93 482h2v1h-2zM125 482h2v1h-2zM350 482h2v1h-2zM279 469h3v1h-3zM285 469h2v1h-2zM463 503h3v1h-3zM470 503h2v1h-2zM607 522h2v1h-2zM622 522h2v1h-2zM703 522h2v1h-2zM12 490h2v1h-2zM151 490h2v1h-2zM232 490h2v1h-2zM266 490h2v1h-2zM391 490h3v1h-3zM427 490h3v1h-3zM151 489h2v1h-2zM234 489h2v1h-2zM389 489h2v1h-2zM394 489h6v1h-6zM247 502h6v1h-6zM455 502h2v1h-2zM466 502h4v1h-4zM287 470h3v1h-3zM43 501h3v1h-3zM253 501h2v1h-2zM457 501h2v1h-2zM460 501h2v1h-2zM276 471h2v1h-2zM290 471h2v1h-2zM686 534h2v1h-2zM282 468h3v1h-3zM628 533h2v1h-2zM548 523h2v1h-2zM609 523h2v1h-2zM510 544h2v1h-2zM526 544h2v1h-2zM573 507h2v1h-2zM583 507h3v1h-3zM507 545h3v1h-3zM523 545h3v1h-3zM646 528h3v1h-3zM680 528h2v1h-2zM659 542h2v1h-2zM495 517h5v1h-5zM566 517h2v1h-2zM374 474h4v1h-4zM487 536h3v1h-3zM406 486h2v1h-2zM490 537h2v1h-2zM351 483h1v1h-1zM661 541h1v1h-1zM363 475h1v1h-1zM58 504h1v2h-1zM229 493h1v1h-1zM259 493h1v2h-1zM61 500h1v2h-1zM687 535h1v1h-1zM81 487h1v4h-1zM271 477h1v2h-1zM274 473h1v1h-1zM187 514h1v1h-1zM605 507h1v6h-1zM442 483h1v2h-1zM338 493h1v2h-1zM419 491h1v1h-1zM160 478h1v2h-1zM54 505h1v3h-1zM168 490h1v3h-1zM85 484h1v2h-1zM504 533h1v4h-1zM422 493h1v1h-1zM494 520h1v5h-1zM547 524h1v1h-1zM539 520h1v1h-1zM142 474h1v2h-1zM244 494h1v2h-1zM172 486h1v4h-1zM236 490h1v2h-1zM16 495h1v5h-1zM453 497h1v2h-1zM328 492h1v4h-1zM175 499h1v3h-1zM270 479h1v4h-1zM604 501h1v6h-1zM676 521h1v1h-1zM527 541h1v3h-1zM407 485h1v1h-1zM324 477h1v4h-1zM42 500h1v1h-1zM679 526h1v2h-1zM626 528h1v3h-1zM186 512h1v2h-1zM501 523h1v3h-1zM688 530h1v4h-1zM577 505h1v2h-1zM149 480h1v5h-1zM255 500h1v1h-1zM512 542h1v2h-1zM672 529h1v4h-1zM482 514h1v9h-1zM445 489h1v3h-1zM202 499h1v4h-1zM278 470h1v1h-1zM247 501h1v1h-1zM459 500h1v1h-1zM80 491h1v4h-1zM542 524h1v2h-1zM8 493h1v1h-1zM11 489h1v1h-1zM239 496h1v1h-1zM19 510h1v2h-1zM201 503h1v4h-1zM157 480h1v2h-1zM493 525h1v5h-1zM347 480h1v1h-1zM452 495h1v2h-1zM607 519h1v3h-1zM171 483h1v2h-1zM657 537h1v2h-1zM414 488h1v2h-1zM205 494h1v1h-1zM694 523h1v1h-1zM675 518h1v2h-1zM57 506h1v1h-1zM330 500h1v4h-1zM258 495h1v2h-1zM561 514h1v2h-1zM18 505h1v5h-1zM507 544h1v1h-1zM479 491h1v1h-1zM479 493h1v3h-1zM326 485h1v4h-1zM185 511h1v1h-1zM334 499h1v2h-1zM122 481h1v2h-1zM418 490h1v1h-1zM84 483h1v1h-1zM87 488h1v1h-1zM441 481h1v2h-1zM659 543h1v1h-1zM702 523h1v1h-1zM53 503h1v2h-1zM474 497h1v2h-1zM671 533h1v4h-1zM246 499h1v2h-1zM603 498h1v3h-1zM530 523h1v6h-1zM411 494h1v2h-1zM174 495h1v4h-1zM365 473h1v1h-1zM60 502h1v1h-1zM293 474h1v2h-1zM41 498h1v2h-1zM492 530h1v5h-1zM167 493h1v2h-1zM481 505h1v9h-1zM670 537h1v2h-1zM25 508h1v2h-1zM690 522h1v4h-1zM444 487h1v2h-1zM425 492h1v1h-1zM417 488h1v2h-1zM606 513h1v6h-1zM625 526h1v2h-1zM29 501h1v2h-1zM83 480h1v2h-1zM500 519h1v4h-1zM354 476h1v2h-1zM440 479h1v2h-1zM406 487h1v1h-1zM346 481h1v2h-1zM52 500h1v3h-1zM178 506h1v2h-1zM454 499h1v2h-1zM433 484h1v3h-1zM231 491h1v1h-1zM329 496h1v4h-1zM410 492h1v2h-1zM503 530h1v3h-1zM674 521h1v4h-1zM455 501h1v1h-1zM663 539h1v1h-1zM632 533h1v2h-1zM592 505h1v2h-1zM82 483h1v4h-1zM15 492h1v3h-1zM235 488h1v1h-1zM569 511h1v3h-1zM333 501h1v2h-1zM166 491h1v2h-1zM712 516h1v2h-1zM323 475h1v1h-1zM273 474h1v2h-1zM473 499h1v2h-1zM200 507h1v4h-1zM337 495h1v1h-1zM265 487h1v2h-1zM340 490h1v2h-1zM148 476h1v4h-1zM86 486h1v2h-1zM682 529h1v1h-1zM184 509h1v2h-1zM121 479h1v2h-1zM413 490h1v2h-1zM204 495h1v2h-1zM506 540h1v4h-1zM173 490h1v5h-1zM269 483h1v3h-1zM515 537h1v1h-1zM268 486h1v4h-1zM238 494h1v2h-1zM689 526h1v4h-1zM177 504h1v2h-1zM556 520h1v1h-1zM658 539h1v3h-1zM199 511h1v1h-1zM576 507h1v1h-1zM412 492h1v2h-1zM599 499h1v1h-1zM89 485h1v2h-1zM580 504h1v1h-1zM495 518h1v2h-1zM432 487h1v3h-1zM621 523h1v1h-1zM677 522h1v2h-1zM17 500h1v5h-1zM28 503h1v2h-1zM165 488h1v3h-1zM480 496h1v9h-1zM79 495h1v2h-1zM6 493h1v1h-1zM529 529h1v6h-1zM158 478h1v2h-1zM241 494h1v1h-1zM624 523h1v3h-1zM325 481h1v4h-1zM261 488h1v3h-1zM10 490h1v1h-1zM443 485h1v2h-1zM568 514h1v3h-1zM120 477h1v2h-1zM150 485h1v4h-1zM669 539h1v2h-1zM24 510h1v2h-1zM435 480h1v1h-1zM579 503h1v1h-1zM245 496h1v3h-1zM673 525h1v4h-1zM237 492h1v2h-1zM528 535h1v6h-1zM591 504h1v1h-1zM665 541h1v2h-1zM257 497h1v1h-1zM292 472h1v2h-1zM564 513h1v2h-1zM336 496h1v2h-1zM451 493h1v1h-1zM502 526h1v4h-1zM483 523h1v6h-1zM476 495h1v1h-1zM203 497h1v2h-1zM153 488h1v1h-1zM598 500h1v3h-1zM264 486h1v1h-1zM70 499h1v1h-1zM424 493h1v1h-1zM405 488h1v2h-1zM367 471h1v1h-1zM207 491h1v1h-1zM294 476h1v2h-1zM317 479h1v1h-1zM472 501h1v2h-1zM711 518h1v1h-1zM382 481h1v2h-1zM571 507h1v1h-1zM560 516h1v1h-1zM563 512h1v1h-1zM272 476h1v1h-1zM594 508h1v1h-1zM260 491h1v2h-1zM302 476h1v1h-1zM400 490h1v1h-1zM558 518h1v1h-1zM630 534h1v1h-1zM267 491h1v1h-1zM401 491h1v1h-1zM570 508h1v3h-1zM505 537h1v3h-1zM631 535h1v1h-1zM343 486h1v1h-1zM634 530h1v2h-1zM256 498h1v2h-1zM517 539h1v2h-1zM623 521h1v1h-1zM486 533h1v2h-1zM27 505h1v1h-1zM176 502h1v2h-1zM62 499h1v1h-1zM597 503h1v3h-1zM210 495h1v1h-1zM243 492h1v1h-1zM734 510h1v1h-1zM275 472h1v1h-1zM51 498h1v1h-1zM327 489h1v3h-1zM381 479h1v2h-1zM434 481h1v3h-1zM567 518h1v1h-1zM339 492h1v1h-1zM582 506h1v1h-1zM446 492h1v2h-1zM206 492h1v2h-1zM596 506h1v3h-1zM164 486h1v2h-1zM156 482h1v2h-1zM627 531h1v2h-1zM668 541h1v2h-1zM263 484h1v1h-1zM714 513h1v2h-1zM578 504h1v1h-1zM161 480h1v2h-1zM119 475h1v1h-1zM516 538h1v1h-1zM664 540h1v1h-1zM656 534h1v3h-1zM593 507h1v1h-1zM262 486h1v2h-1zM228 494h1v1h-1zM30 499h1v2h-1zM565 515h1v1h-1zM691 520h1v1h-1zM240 495h1v1h-1zM475 496h1v1h-1zM566 516h1v1h-1zM190 512h1v1h-1zM266 489h1v1h-1zM141 476h1v1h-1zM653 529h1v1h-1zM683 530h1v1h-1zM7 494h1v1h-1zM26 506h1v2h-1zM550 522h1v1h-1zM415 486h1v1h-1zM209 493h1v2h-1zM369 473h1v1h-1zM485 531h1v2h-1zM56 507h1v1h-1zM335 498h1v1h-1zM88 487h1v1h-1zM383 483h1v2h-1zM581 505h1v1h-1zM426 491h1v1h-1zM384 485h1v1h-1zM353 478h1v2h-1zM342 487h1v2h-1zM531 521h1v2h-1zM667 544h1v1h-1zM366 472h1v1h-1zM316 480h1v1h-1zM163 484h1v2h-1zM403 493h1v1h-1zM364 474h1v1h-1zM208 492h1v1h-1zM409 489h1v3h-1zM562 513h1v1h-1zM519 542h1v1h-1zM595 510h1v1h-1zM522 544h1v1h-1zM462 502h1v1h-1zM380 477h1v2h-1zM3 491h1v1h-1zM140 477h1v2h-1zM14 491h1v1h-1zM652 527h1v2h-1zM557 519h1v1h-1zM633 532h1v1h-1zM345 483h1v1h-1zM368 472h1v1h-1zM170 486h1v2h-1zM713 515h1v1h-1zM484 529h1v2h-1zM151 491h1v1h-1zM518 541h1v1h-1zM352 480h1v2h-1zM59 503h1v1h-1zM487 535h1v1h-1zM499 518h1v1h-1zM155 484h1v2h-1zM655 532h1v2h-1zM678 524h1v2h-1zM379 476h1v1h-1zM514 538h1v2h-1zM651 526h1v1h-1zM162 482h1v2h-1zM55 509h1v1h-1zM447 494h1v1h-1zM685 532h1v2h-1zM662 540h1v1h-1zM477 493h1v2h-1zM332 503h1v1h-1zM575 508h1v1h-1zM230 492h1v1h-1zM159 477h1v1h-1zM147 474h1v2h-1zM431 490h1v1h-1zM306 477h1v1h-1zM620 524h1v1h-1zM404 490h1v2h-1zM341 489h1v1h-1zM9 491h1v2h-1zM385 486h1v1h-1zM654 530h1v2h-1zM40 497h1v1h-1zM386 487h1v1h-1zM693 522h1v1h-1zM491 535h1v2h-1zM684 531h1v1h-1zM154 486h1v2h-1zM90 484h1v1h-1zM540 521h1v2h-1zM303 475h1v1h-1zM344 484h1v2h-1zM408 487h1v2h-1zM513 540h1v2h-1zM541 523h1v1h-1zM169 488h1v2h-1zM318 478h1v1h-1zM423 494h1v1h-1zM331 505h1v1h-1zM370 474h1v1h-1zM559 517h1v1h-1z"/>
<g fill="#000" shape-rendering="crispEdges">
<rect x="2" y="2" width="759" height="1"/>
<rect x="2" y="2" width="1" height="578"/>
<rect x="760" y="2" width="1" height="432"/>
<rect x="2" y="433" width="759" height="1"/>
<rect x="2" y="435" width="759" height="1"/>
<rect x="760" y="435" width="1" height="145"/>
<rect x="2" y="579" width="759" height="1"/>
<rect x="761" y="24" width="2" height="1"/>
<rect x="761" y="61" width="2" height="1"/>
<rect x="761" y="98" width="2" height="1"/>
<rect x="761" y="134" width="2" height="1"/>
<rect x="761" y="171" width="2" height="1"/>
<rect x="761" y="208" width="2" height="1"/>
<rect x="761" y="244" width="2" height="1"/>
<rect x="761" y="281" width="2" height="1"/>
<rect x="761" y="317" width="2" height="1"/>
<rect x="761" y="354" width="2" height="1"/>
<rect x="761" y="391" width="2" height="1"/>
<rect x="761" y="427" width="2" height="1"/>
<rect x="761" y="437" width="1" height="1"/>
<rect x="761" y="479" width="1" height="1"/>
<rect x="761" y="536" width="1" height="1"/>
<rect x="761" y="578" width="1" height="1"/>
<rect x="3" y="580" width="1" height="4"/>
<rect x="67" y="580" width="1" height="4"/>
<rect x="131" y="580" width="1" height="4"/>
<rect x="195" y="580" width="1" height="4"/>
<rect x="259" y="580" width="1" height="4"/>
<rect x="323" y="580" width="1" height="4"/>
<rect x="387" y="580" width="1" height="4"/>
<rect x="451" y="580" width="1" height="4"/>
<rect x="515" y="580" width="1" height="4"/>
<rect x="579" y="580" width="1" height="4"/>
<rect x="643" y="580" width="1" height="4"/>
<rect x="707" y="580" width="1" height="4"/>
</g>
<path d="M6 9 L14 9 L10 13 Z" fill="#000"/>
<text x="18.5" y="14" font-size="10.2" textLength="45.7" lengthAdjust="spacingAndGlyphs" text-rendering="geometricPrecision" fill="#000" stroke="#000" stroke-width="0.3" xml:space="preserve">BRENT,H1</text>
<text x="70.5" y="14" font-size="10.2" textLength="99.5" lengthAdjust="spacingAndGlyphs" text-rendering="geometricPrecision" fill="#000" stroke="#000" stroke-width="0.3" xml:space="preserve">46.91 46.94 46.89 46.92</text>
<text x="766" y="28" font-size="10.2" textLength="23.3" lengthAdjust="spacingAndGlyphs" text-rendering="geometricPrecision" fill="#000" stroke="#000" stroke-width="0.3" xml:space="preserve">49.70</text>
<text x="766" y="65" font-size="10.2" textLength="23.3" lengthAdjust="spacingAndGlyphs" text-rendering="geometricPrecision" fill="#000" stroke="#000" stroke-width="0.3" xml:space="preserve">49.35</text>
<text x="766" y="102" font-size="10.2" textLength="23.3" lengthAdjust="spacingAndGlyphs" text-rendering="geometricPrecision" fill="#000" stroke="#000" stroke-width="0.3" xml:space="preserve">49.00</text>
<text x="766" y="138" font-size="10.2" textLength="23.3" lengthAdjust="spacingAndGlyphs" text-rendering="geometricPrecision" fill="#000" stroke="#000" stroke-width="0.3" xml:space="preserve">48.65</text>
<text x="766" y="175" font-size="10.2" textLength="23.3" lengthAdjust="spacingAndGlyphs" text-rendering="geometricPrecision" fill="#000" stroke="#000" stroke-width="0.3" xml:space="preserve">48.30</text>
<text x="766" y="212" font-size="10.2" textLength="23.3" lengthAdjust="spacingAndGlyphs" text-rendering="geometricPrecision" fill="#000" stroke="#000" stroke-width="0.3" xml:space="preserve">47.95</text>
<text x="766" y="248" font-size="10.2" textLength="23.3" lengthAdjust="spacingAndGlyphs" text-rendering="geometricPrecision" fill="#000" stroke="#000" stroke-width="0.3" xml:space="preserve">47.60</text>
<text x="766" y="285" font-size="10.2" textLength="23.3" lengthAdjust="spacingAndGlyphs" text-rendering="geometricPrecision" fill="#000" stroke="#000" stroke-width="0.3" xml:space="preserve">47.25</text>
<text x="766" y="358" font-size="10.2" textLength="23.3" lengthAdjust="spacingAndGlyphs" text-rendering="geometricPrecision" fill="#000" stroke="#000" stroke-width="0.3" xml:space="preserve">46.55</text>
<text x="766" y="395" font-size="10.2" textLength="23.3" lengthAdjust="spacingAndGlyphs" text-rendering="geometricPrecision" fill="#000" stroke="#000" stroke-width="0.3" xml:space="preserve">46.20</text>
<text x="766" y="431" font-size="10.2" textLength="23.3" lengthAdjust="spacingAndGlyphs" text-rendering="geometricPrecision" fill="#000" stroke="#000" stroke-width="0.3" xml:space="preserve">45.85</text>
<rect x="762" y="310" width="31" height="11" fill="#000"/>
<rect x="760" y="316" width="1" height="1" fill="#fff" shape-rendering="crispEdges"/>
<text x="766" y="319" font-size="10.2" textLength="23.3" lengthAdjust="spacingAndGlyphs" text-rendering="geometricPrecision" fill="#fff" stroke="#fff" stroke-width="0.3" xml:space="preserve">46.92</text>
<text x="7.5" y="448" font-size="10.2" textLength="67.5" lengthAdjust="spacingAndGlyphs" text-rendering="geometricPrecision" fill="#000" stroke="#000" stroke-width="0.3" xml:space="preserve">RSI(13) 48.1386</text>
<text x="764.3" y="446" font-size="10.2" textLength="14.7" lengthAdjust="spacingAndGlyphs" text-rendering="geometricPrecision" fill="#000" stroke="#000" stroke-width="0.3" xml:space="preserve">100</text>
<text x="764" y="483" font-size="10.2" textLength="9.0" lengthAdjust="spacingAndGlyphs" text-rendering="geometricPrecision" fill="#000" stroke="#000" stroke-width="0.3" xml:space="preserve">70</text>
<text x="764" y="540" font-size="10.2" textLength="9.0" lengthAdjust="spacingAndGlyphs" text-rendering="geometricPrecision" fill="#000" stroke="#000" stroke-width="0.3" xml:space="preserve">30</text>
<text x="764" y="576" font-size="10.2" textLength="5.0" lengthAdjust="spacingAndGlyphs" text-rendering="geometricPrecision" fill="#000" stroke="#000" stroke-width="0.3" xml:space="preserve">0</text>
<text x="2.6" y="592" font-size="10.2" textLength="49.0" lengthAdjust="spacingAndGlyphs" text-rendering="geometricPrecision" fill="#000" stroke="#000" stroke-width="0.3" xml:space="preserve">27 Jun 2017</text>
<text x="66.6" y="592" font-size="10.2" textLength="53.0" lengthAdjust="spacingAndGlyphs" text-rendering="geometricPrecision" fill="#000" stroke="#000" stroke-width="0.3" xml:space="preserve">28 Jun 13:00</text>
<text x="130.6" y="592" font-size="10.2" textLength="52.5" lengthAdjust="spacingAndGlyphs" text-rendering="geometricPrecision" fill="#000" stroke="#000" stroke-width="0.3" xml:space="preserve">29 Jun 07:00</text>
<text x="194.6" y="592" font-size="10.2" textLength="52.5" lengthAdjust="spacingAndGlyphs" text-rendering="geometricPrecision" fill="#000" stroke="#000" stroke-width="0.3" xml:space="preserve">29 Jun 23:00</text>
<text x="258.6" y="592" font-size="10.2" textLength="53.0" lengthAdjust="spacingAndGlyphs" text-rendering="geometricPrecision" fill="#000" stroke="#000" stroke-width="0.3" xml:space="preserve">30 Jun 17:00</text>
<text x="322.6" y="592" font-size="10.2" textLength="44.6" lengthAdjust="spacingAndGlyphs" text-rendering="geometricPrecision" fill="#000" stroke="#000" stroke-width="0.3" xml:space="preserve">3 Jul 10:00</text>
<text x="386.6" y="592" font-size="10.2" textLength="44.2" lengthAdjust="spacingAndGlyphs" text-rendering="geometricPrecision" fill="#000" stroke="#000" stroke-width="0.3" xml:space="preserve">4 Jul 04:00</text>
<text x="450.6" y="592" font-size="10.2" textLength="44.2" lengthAdjust="spacingAndGlyphs" text-rendering="geometricPrecision" fill="#000" stroke="#000" stroke-width="0.3" xml:space="preserve">5 Jul 03:00</text>
<text x="514.6" y="592" font-size="10.2" textLength="44.8" lengthAdjust="spacingAndGlyphs" text-rendering="geometricPrecision" fill="#000" stroke="#000" stroke-width="0.3" xml:space="preserve">5 Jul 19:00</text>
<text x="578.6" y="592" font-size="10.2" textLength="44.8" lengthAdjust="spacingAndGlyphs" text-rendering="geometricPrecision" fill="#000" stroke="#000" stroke-width="0.3" xml:space="preserve">6 Jul 13:00</text>
<text x="642.6" y="592" font-size="10.2" textLength="44.8" lengthAdjust="spacingAndGlyphs" text-rendering="geometricPrecision" fill="#000" stroke="#000" stroke-width="0.3" xml:space="preserve">7 Jul 07:00</text>
<text x="706.6" y="592" font-size="10.2" textLength="44.8" lengthAdjust="spacingAndGlyphs" text-rendering="geometricPrecision" fill="#000" stroke="#000" stroke-width="0.3" xml:space="preserve">7 Jul 23:00</text>
</svg></body></html>
